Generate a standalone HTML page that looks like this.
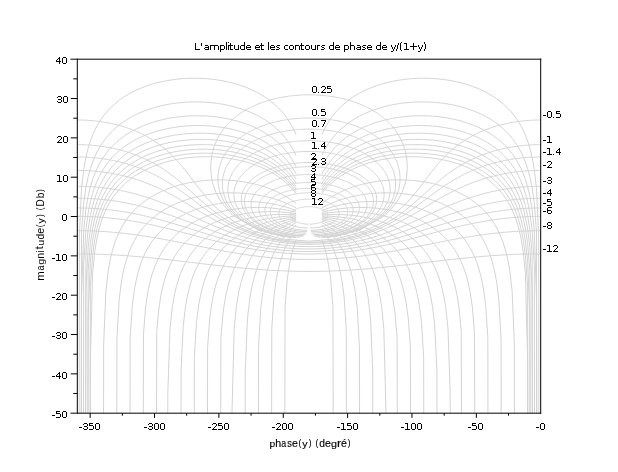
<!DOCTYPE html>
<html><head><meta charset="utf-8"><style>
html,body{margin:0;padding:0;background:#fff;}
svg{display:block;}
text{font-family:"Liberation Sans",sans-serif;fill:#000;}
</style></head><body>
<svg width="618" height="472" viewBox="0 0 618 472">
<defs><clipPath id="cp"><rect x="77.3" y="59.2" width="463.4" height="354"/></clipPath>
<filter id="gs" x="0" y="0" width="1" height="1"><feOffset dx="0" dy="0"/></filter></defs>
<rect width="618" height="472" fill="#fff"/>
<g clip-path="url(#cp)"><path d="M309.00,271.39L306.87,271.39L303.92,271.37L300.97,271.34L298.02,271.29L295.08,271.24L292.15,271.17L289.22,271.08L286.30,270.99L283.40,270.88L280.50,270.76L277.62,270.62L274.76,270.48L271.90,270.32L269.07,270.16L266.25,269.98L263.45,269.80L260.67,269.60L257.91,269.40L255.17,269.19L252.45,268.97L249.75,268.74L247.07,268.51L244.41,268.27L241.78,268.03L239.16,267.78L236.57,267.53L234.00,267.27L231.45,267.01L228.93,266.74L226.43,266.48L223.94,266.21L221.48,265.94L219.04,265.67L216.63,265.39L214.23,265.12L211.85,264.84L209.50,264.57L207.16,264.29L204.84,264.02L202.55,263.75L200.27,263.47L198.01,263.20L195.77,262.93L193.54,262.67L191.33,262.40L189.14,262.14L186.97,261.88L184.81,261.62L182.67,261.36L180.54,261.11L178.43,260.86L176.33,260.62L174.25,260.37L172.18,260.14L170.13,259.90L168.08,259.67L166.05,259.44L164.03,259.22L162.03,259.00L160.03,258.78L158.05,258.57L156.07,258.36L154.11,258.16L152.16,257.96L150.21,257.76L148.28,257.57L146.35,257.38L144.44,257.20L142.53,257.03L140.63,256.85L138.74,256.69L136.85,256.52L134.98,256.36L133.11,256.21L131.24,256.06L129.39,255.92L127.54,255.78L125.69,255.64L123.85,255.51L122.02,255.39L120.19,255.27L118.37,255.15L116.55,255.04L114.74,254.94L112.93,254.84L111.12,254.74L109.32,254.65L107.52,254.56L105.73,254.48L103.93,254.41L102.15,254.33L100.36,254.27L98.58,254.21L96.79,254.15L95.02,254.10L93.24,254.05L91.46,254.01L89.69,253.97L87.92,253.94L86.15,253.91L84.38,253.89L82.61,253.87L80.84,253.86L79.07,253.85L77.30,253.85M540.70,253.85L538.93,253.85L537.16,253.86L535.39,253.87L533.62,253.89L531.85,253.91L530.08,253.94L528.31,253.97L526.54,254.01L524.76,254.05L522.98,254.10L521.21,254.15L519.42,254.21L517.64,254.27L515.85,254.33L514.07,254.41L512.27,254.48L510.48,254.56L508.68,254.65L506.88,254.74L505.07,254.84L503.26,254.94L501.45,255.04L499.63,255.15L497.81,255.27L495.98,255.39L494.15,255.51L492.31,255.64L490.46,255.78L488.61,255.92L486.76,256.06L484.89,256.21L483.02,256.36L481.15,256.52L479.26,256.69L477.37,256.85L475.47,257.03L473.56,257.20L471.65,257.38L469.72,257.57L467.79,257.76L465.84,257.96L463.89,258.16L461.93,258.36L459.95,258.57L457.97,258.78L455.97,259.00L453.97,259.22L451.95,259.44L449.92,259.67L447.87,259.90L445.82,260.14L443.75,260.37L441.67,260.62L439.57,260.86L437.46,261.11L435.33,261.36L433.19,261.62L431.03,261.88L428.86,262.14L426.67,262.40L424.46,262.67L422.23,262.93L419.99,263.20L417.73,263.47L415.45,263.75L413.16,264.02L410.84,264.29L408.50,264.57L406.15,264.84L403.77,265.12L401.37,265.39L398.96,265.67L396.52,265.94L394.06,266.21L391.57,266.48L389.07,266.74L386.55,267.01L384.00,267.27L381.43,267.53L378.84,267.78L376.22,268.03L373.59,268.27L370.93,268.51L368.25,268.74L365.55,268.97L362.83,269.19L360.09,269.40L357.33,269.60L354.55,269.80L351.75,269.98L348.93,270.16L346.10,270.32L343.24,270.48L340.38,270.62L337.50,270.76L334.60,270.88L331.70,270.99L328.78,271.08L325.85,271.17L322.92,271.24L319.98,271.29L317.03,271.34L314.08,271.37L311.13,271.39L309.00,271.39M309.00,259.45L306.35,259.44L302.68,259.40L299.02,259.32L295.37,259.22L291.74,259.08L288.13,258.91L284.55,258.71L281.00,258.48L277.48,258.22L274.00,257.93L270.57,257.63L267.17,257.29L263.82,256.94L260.52,256.57L257.27,256.18L254.07,255.78L250.91,255.36L247.81,254.92L244.76,254.48L241.75,254.03L238.80,253.57L235.90,253.10L233.05,252.63L230.24,252.15L227.48,251.67L224.77,251.18L222.10,250.70L219.48,250.21L216.89,249.73L214.35,249.25L211.85,248.76L209.39,248.29L206.97,247.81L204.58,247.34L202.22,246.87L199.90,246.41L197.62,245.95L195.36,245.50L193.13,245.05L190.93,244.61L188.76,244.17L186.62,243.74L184.50,243.32L182.41,242.90L180.34,242.49L178.29,242.09L176.26,241.69L174.26,241.30L172.27,240.92L170.31,240.55L168.36,240.18L166.43,239.82L164.52,239.47L162.63,239.12L160.74,238.78L158.88,238.45L157.03,238.13L155.19,237.81L153.37,237.50L151.56,237.20L149.76,236.90L147.97,236.61L146.20,236.33L144.43,236.06L142.68,235.79L140.93,235.53L139.20,235.28L137.47,235.04L135.75,234.80L134.04,234.57L132.34,234.34L130.65,234.13L128.96,233.92L127.28,233.71L125.61,233.51L123.94,233.32L122.28,233.14L120.63,232.97L118.98,232.80L117.34,232.63L115.70,232.48L114.07,232.33L112.44,232.18L110.81,232.05L109.19,231.92L107.57,231.79L105.96,231.68L104.35,231.56L102.74,231.46L101.14,231.36L99.54,231.27L97.94,231.19L96.34,231.11L94.75,231.04L93.15,230.97L91.56,230.91L89.98,230.86L88.39,230.81L86.80,230.77L85.22,230.73L83.63,230.71L82.05,230.68L80.47,230.67L78.88,230.66L77.30,230.66M540.70,230.66L539.12,230.66L537.53,230.67L535.95,230.68L534.37,230.71L532.78,230.73L531.20,230.77L529.61,230.81L528.02,230.86L526.44,230.91L524.85,230.97L523.25,231.04L521.66,231.11L520.06,231.19L518.46,231.27L516.86,231.36L515.26,231.46L513.65,231.56L512.04,231.68L510.43,231.79L508.81,231.92L507.19,232.05L505.56,232.18L503.93,232.33L502.30,232.48L500.66,232.63L499.02,232.80L497.37,232.97L495.72,233.14L494.06,233.32L492.39,233.51L490.72,233.71L489.04,233.92L487.35,234.13L485.66,234.34L483.96,234.57L482.25,234.80L480.53,235.04L478.80,235.28L477.07,235.53L475.32,235.79L473.57,236.06L471.80,236.33L470.03,236.61L468.24,236.90L466.44,237.20L464.63,237.50L462.81,237.81L460.97,238.13L459.12,238.45L457.26,238.78L455.37,239.12L453.48,239.47L451.57,239.82L449.64,240.18L447.69,240.55L445.73,240.92L443.74,241.30L441.74,241.69L439.71,242.09L437.66,242.49L435.59,242.90L433.50,243.32L431.38,243.74L429.24,244.17L427.07,244.61L424.87,245.05L422.64,245.50L420.38,245.95L418.10,246.41L415.78,246.87L413.42,247.34L411.03,247.81L408.61,248.29L406.15,248.76L403.65,249.25L401.11,249.73L398.52,250.21L395.90,250.70L393.23,251.18L390.52,251.67L387.76,252.15L384.95,252.63L382.10,253.10L379.20,253.57L376.25,254.03L373.24,254.48L370.19,254.92L367.09,255.36L363.93,255.78L360.73,256.18L357.48,256.57L354.18,256.94L350.83,257.29L347.43,257.63L344.00,257.93L340.52,258.22L337.00,258.48L333.45,258.71L329.87,258.91L326.26,259.08L322.63,259.22L318.98,259.32L315.32,259.40L311.65,259.44L309.00,259.45M309.00,254.01L305.81,254.00L301.38,253.92L296.98,253.79L292.60,253.59L288.27,253.34L283.99,253.03L279.77,252.67L275.63,252.27L271.55,251.82L267.56,251.33L263.65,250.81L259.83,250.25L256.09,249.67L252.45,249.06L248.90,248.43L245.44,247.79L242.06,247.13L238.77,246.46L235.57,245.79L232.45,245.10L229.40,244.42L226.44,243.73L223.54,243.05L220.72,242.36L217.96,241.68L215.27,241.01L212.64,240.34L210.06,239.68L207.55,239.02L205.08,238.37L202.67,237.74L200.30,237.11L197.98,236.49L195.70,235.88L193.46,235.28L191.26,234.69L189.10,234.11L186.97,233.54L184.88,232.98L182.82,232.43L180.78,231.89L178.78,231.37L176.80,230.85L174.85,230.35L172.92,229.85L171.02,229.37L169.14,228.90L167.28,228.44L165.43,227.98L163.61,227.54L161.81,227.11L160.02,226.69L158.25,226.28L156.49,225.87L154.75,225.48L153.03,225.10L151.32,224.72L149.62,224.36L147.93,224.01L146.25,223.66L144.59,223.32L142.94,223.00L141.29,222.68L139.66,222.37L138.04,222.07L136.42,221.78L134.82,221.49L133.22,221.22L131.63,220.95L130.04,220.69L128.47,220.44L126.90,220.20L125.33,219.96L123.78,219.74L122.23,219.52L120.68,219.31L119.14,219.11L117.61,218.91L116.07,218.72L114.55,218.54L113.03,218.37L111.51,218.20L110.00,218.05L108.49,217.90L106.98,217.75L105.48,217.62L103.98,217.49L102.48,217.37L100.98,217.25L99.49,217.14L98.00,217.04L96.52,216.95L95.03,216.87L93.55,216.79L92.06,216.71L90.58,216.65L89.10,216.59L87.63,216.54L86.15,216.49L84.67,216.46L83.20,216.43L81.72,216.40L80.25,216.38L78.77,216.37L77.30,216.37M540.70,216.37L539.23,216.37L537.75,216.38L536.28,216.40L534.80,216.43L533.33,216.46L531.85,216.49L530.37,216.54L528.90,216.59L527.42,216.65L525.94,216.71L524.45,216.79L522.97,216.87L521.48,216.95L520.00,217.04L518.51,217.14L517.02,217.25L515.52,217.37L514.02,217.49L512.52,217.62L511.02,217.75L509.51,217.90L508.00,218.05L506.49,218.20L504.97,218.37L503.45,218.54L501.93,218.72L500.39,218.91L498.86,219.11L497.32,219.31L495.77,219.52L494.22,219.74L492.67,219.96L491.10,220.20L489.53,220.44L487.96,220.69L486.37,220.95L484.78,221.22L483.18,221.49L481.58,221.78L479.96,222.07L478.34,222.37L476.71,222.68L475.06,223.00L473.41,223.32L471.75,223.66L470.07,224.01L468.38,224.36L466.68,224.72L464.97,225.10L463.25,225.48L461.51,225.87L459.75,226.28L457.98,226.69L456.19,227.11L454.39,227.54L452.57,227.98L450.72,228.44L448.86,228.90L446.98,229.37L445.08,229.85L443.15,230.35L441.20,230.85L439.22,231.37L437.22,231.89L435.18,232.43L433.12,232.98L431.03,233.54L428.90,234.11L426.74,234.69L424.54,235.28L422.30,235.88L420.02,236.49L417.70,237.11L415.33,237.74L412.92,238.37L410.45,239.02L407.94,239.68L405.36,240.34L402.73,241.01L400.04,241.68L397.28,242.36L394.46,243.05L391.56,243.73L388.60,244.42L385.55,245.10L382.43,245.79L379.23,246.46L375.94,247.13L372.56,247.79L369.10,248.43L365.55,249.06L361.91,249.67L358.17,250.25L354.35,250.81L350.44,251.33L346.45,251.82L342.37,252.27L338.23,252.67L334.01,253.03L329.73,253.34L325.40,253.59L321.02,253.79L316.62,253.92L312.19,254.00L309.00,254.01M309.00,251.44L305.36,251.42L300.32,251.31L295.32,251.11L290.37,250.83L285.49,250.47L280.70,250.03L276.01,249.52L271.43,248.96L266.97,248.33L262.64,247.66L258.43,246.95L254.36,246.20L250.41,245.43L246.59,244.63L242.90,243.81L239.32,242.98L235.87,242.15L232.53,241.31L229.29,240.46L226.16,239.62L223.12,238.78L220.18,237.95L217.32,237.13L214.55,236.31L211.85,235.51L209.23,234.71L206.67,233.93L204.18,233.16L201.75,232.41L199.38,231.66L197.05,230.94L194.78,230.22L192.56,229.52L190.38,228.83L188.24,228.16L186.15,227.51L184.09,226.86L182.06,226.23L180.07,225.62L178.11,225.01L176.17,224.43L174.27,223.85L172.39,223.29L170.54,222.74L168.71,222.21L166.90,221.68L165.11,221.17L163.34,220.68L161.59,220.19L159.86,219.72L158.15,219.25L156.45,218.80L154.76,218.36L153.10,217.93L151.44,217.52L149.80,217.11L148.17,216.71L146.55,216.33L144.95,215.95L143.35,215.59L141.77,215.23L140.19,214.89L138.62,214.55L137.07,214.23L135.52,213.91L133.98,213.60L132.44,213.31L130.92,213.02L129.40,212.74L127.88,212.47L126.38,212.21L124.88,211.95L123.38,211.71L121.89,211.47L120.41,211.24L118.93,211.02L117.45,210.81L115.98,210.61L114.52,210.41L113.06,210.22L111.60,210.04L110.14,209.87L108.69,209.71L107.25,209.55L105.80,209.40L104.36,209.26L102.92,209.13L101.48,209.00L100.05,208.88L98.62,208.77L97.19,208.67L95.76,208.57L94.33,208.48L92.91,208.40L91.48,208.32L90.06,208.26L88.64,208.20L87.22,208.14L85.80,208.10L84.38,208.06L82.97,208.03L81.55,208.00L80.13,207.98L78.72,207.97L77.30,207.97M540.70,207.97L539.28,207.97L537.87,207.98L536.45,208.00L535.03,208.03L533.62,208.06L532.20,208.10L530.78,208.14L529.36,208.20L527.94,208.26L526.52,208.32L525.09,208.40L523.67,208.48L522.24,208.57L520.81,208.67L519.38,208.77L517.95,208.88L516.52,209.00L515.08,209.13L513.64,209.26L512.20,209.40L510.75,209.55L509.31,209.71L507.86,209.87L506.40,210.04L504.94,210.22L503.48,210.41L502.02,210.61L500.55,210.81L499.07,211.02L497.59,211.24L496.11,211.47L494.62,211.71L493.12,211.95L491.62,212.21L490.12,212.47L488.60,212.74L487.08,213.02L485.56,213.31L484.02,213.60L482.48,213.91L480.93,214.23L479.38,214.55L477.81,214.89L476.23,215.23L474.65,215.59L473.05,215.95L471.45,216.33L469.83,216.71L468.20,217.11L466.56,217.52L464.90,217.93L463.24,218.36L461.55,218.80L459.85,219.25L458.14,219.72L456.41,220.19L454.66,220.68L452.89,221.17L451.10,221.68L449.29,222.21L447.46,222.74L445.61,223.29L443.73,223.85L441.83,224.43L439.89,225.01L437.93,225.62L435.94,226.23L433.91,226.86L431.85,227.51L429.76,228.16L427.62,228.83L425.44,229.52L423.22,230.22L420.95,230.94L418.62,231.66L416.25,232.41L413.82,233.16L411.33,233.93L408.77,234.71L406.15,235.51L403.45,236.31L400.68,237.13L397.82,237.95L394.88,238.78L391.84,239.62L388.71,240.46L385.47,241.31L382.13,242.15L378.68,242.98L375.10,243.81L371.41,244.63L367.59,245.43L363.64,246.20L359.57,246.95L355.36,247.66L351.03,248.33L346.57,248.96L341.99,249.52L337.30,250.03L332.51,250.47L327.63,250.83L322.68,251.11L317.68,251.31L312.64,251.42L309.00,251.44M309.00,248.98L304.69,248.94L298.72,248.77L292.83,248.46L287.04,248.02L281.38,247.46L275.88,246.80L270.57,246.04L265.44,245.20L260.52,244.30L255.79,243.34L251.27,242.34L246.95,241.31L242.82,240.25L238.87,239.19L235.09,238.12L231.47,237.04L228.01,235.97L224.69,234.91L221.50,233.86L218.44,232.82L215.49,231.80L212.65,230.80L209.90,229.82L207.25,228.85L204.68,227.91L202.18,226.98L199.76,226.08L197.41,225.20L195.12,224.34L192.89,223.50L190.71,222.67L188.58,221.87L186.49,221.09L184.45,220.33L182.45,219.59L180.49,218.86L178.56,218.16L176.67,217.47L174.80,216.80L172.97,216.14L171.16,215.51L169.37,214.89L167.62,214.28L165.88,213.69L164.16,213.12L162.47,212.56L160.79,212.01L159.13,211.48L157.49,210.97L155.86,210.46L154.25,209.97L152.65,209.50L151.07,209.03L149.50,208.58L147.94,208.14L146.39,207.71L144.85,207.30L143.32,206.89L141.81,206.50L140.30,206.12L138.80,205.74L137.31,205.38L135.82,205.03L134.35,204.69L132.88,204.36L131.42,204.04L129.96,203.73L128.51,203.43L127.07,203.14L125.63,202.86L124.20,202.59L122.77,202.33L121.35,202.07L119.93,201.83L118.52,201.59L117.11,201.36L115.70,201.14L114.30,200.93L112.90,200.73L111.51,200.54L110.12,200.35L108.73,200.17L107.34,200.00L105.96,199.84L104.58,199.69L103.20,199.54L101.83,199.40L100.45,199.27L99.08,199.15L97.71,199.04L96.34,198.93L94.98,198.83L93.61,198.74L92.25,198.65L90.88,198.58L89.52,198.51L88.16,198.44L86.80,198.39L85.44,198.34L84.09,198.30L82.73,198.27L81.37,198.24L80.01,198.22L78.66,198.21L77.30,198.21M540.70,198.21L539.34,198.21L537.99,198.22L536.63,198.24L535.27,198.27L533.91,198.30L532.56,198.34L531.20,198.39L529.84,198.44L528.48,198.51L527.12,198.58L525.75,198.65L524.39,198.74L523.02,198.83L521.66,198.93L520.29,199.04L518.92,199.15L517.55,199.27L516.17,199.40L514.80,199.54L513.42,199.69L512.04,199.84L510.66,200.00L509.27,200.17L507.88,200.35L506.49,200.54L505.10,200.73L503.70,200.93L502.30,201.14L500.89,201.36L499.48,201.59L498.07,201.83L496.65,202.07L495.23,202.33L493.80,202.59L492.37,202.86L490.93,203.14L489.49,203.43L488.04,203.73L486.58,204.04L485.12,204.36L483.65,204.69L482.18,205.03L480.69,205.38L479.20,205.74L477.70,206.12L476.19,206.50L474.68,206.89L473.15,207.30L471.61,207.71L470.06,208.14L468.50,208.58L466.93,209.03L465.35,209.50L463.75,209.97L462.14,210.46L460.51,210.97L458.87,211.48L457.21,212.01L455.53,212.56L453.84,213.12L452.12,213.69L450.38,214.28L448.63,214.89L446.84,215.51L445.03,216.14L443.20,216.80L441.33,217.47L439.44,218.16L437.51,218.86L435.55,219.59L433.55,220.33L431.51,221.09L429.42,221.87L427.29,222.67L425.11,223.50L422.88,224.34L420.59,225.20L418.24,226.08L415.82,226.98L413.32,227.91L410.75,228.85L408.10,229.82L405.35,230.80L402.51,231.80L399.56,232.82L396.50,233.86L393.31,234.91L389.99,235.97L386.53,237.04L382.91,238.12L379.13,239.19L375.18,240.25L371.05,241.31L366.73,242.34L362.21,243.34L357.48,244.30L352.56,245.20L347.43,246.04L342.12,246.80L336.62,247.46L330.96,248.02L325.17,248.46L319.28,248.77L313.31,248.94L309.00,248.98M309.00,246.62L303.55,246.56L296.05,246.25L288.71,245.70L281.60,244.94L274.78,244.00L268.30,242.89L262.17,241.67L256.41,240.35L250.99,238.97L245.92,237.55L241.16,236.10L236.71,234.65L232.52,233.20L228.59,231.76L224.88,230.35L221.38,228.96L218.06,227.60L214.91,226.27L211.91,224.98L209.05,223.72L206.31,222.50L203.68,221.31L201.15,220.15L198.72,219.03L196.36,217.94L194.09,216.89L191.88,215.86L189.73,214.87L187.65,213.90L185.61,212.97L183.63,212.06L181.69,211.17L179.79,210.32L177.93,209.48L176.11,208.68L174.32,207.89L172.55,207.13L170.82,206.39L169.11,205.67L167.43,204.97L165.77,204.29L164.13,203.63L162.51,202.98L160.91,202.36L159.33,201.75L157.76,201.16L156.21,200.59L154.68,200.03L153.15,199.48L151.65,198.96L150.15,198.44L148.66,197.94L147.19,197.46L145.72,196.99L144.27,196.53L142.82,196.08L141.38,195.65L139.95,195.23L138.53,194.82L137.12,194.42L135.71,194.04L134.31,193.66L132.91,193.30L131.52,192.95L130.14,192.61L128.76,192.28L127.39,191.96L126.02,191.65L124.66,191.35L123.30,191.06L121.95,190.78L120.60,190.51L119.25,190.25L117.91,189.99L116.57,189.75L115.23,189.52L113.90,189.29L112.57,189.07L111.24,188.87L109.91,188.67L108.59,188.48L107.27,188.29L105.95,188.12L104.64,187.95L103.32,187.80L102.01,187.65L100.70,187.51L99.39,187.37L98.09,187.25L96.78,187.13L95.47,187.02L94.17,186.92L92.87,186.82L91.57,186.74L90.27,186.66L88.97,186.59L87.67,186.52L86.37,186.47L85.08,186.42L83.78,186.38L82.48,186.34L81.19,186.32L79.89,186.30L78.60,186.29L77.30,186.28M540.70,186.28L539.40,186.29L538.11,186.30L536.81,186.32L535.52,186.34L534.22,186.38L532.92,186.42L531.63,186.47L530.33,186.52L529.03,186.59L527.73,186.66L526.43,186.74L525.13,186.82L523.83,186.92L522.53,187.02L521.22,187.13L519.91,187.25L518.61,187.37L517.30,187.51L515.99,187.65L514.68,187.80L513.36,187.95L512.05,188.12L510.73,188.29L509.41,188.48L508.09,188.67L506.76,188.87L505.43,189.07L504.10,189.29L502.77,189.52L501.43,189.75L500.09,189.99L498.75,190.25L497.40,190.51L496.05,190.78L494.70,191.06L493.34,191.35L491.98,191.65L490.61,191.96L489.24,192.28L487.86,192.61L486.48,192.95L485.09,193.30L483.69,193.66L482.29,194.04L480.88,194.42L479.47,194.82L478.05,195.23L476.62,195.65L475.18,196.08L473.73,196.53L472.28,196.99L470.81,197.46L469.34,197.94L467.85,198.44L466.35,198.96L464.85,199.48L463.32,200.03L461.79,200.59L460.24,201.16L458.67,201.75L457.09,202.36L455.49,202.98L453.87,203.63L452.23,204.29L450.57,204.97L448.89,205.67L447.18,206.39L445.45,207.13L443.68,207.89L441.89,208.68L440.07,209.48L438.21,210.32L436.31,211.17L434.37,212.06L432.39,212.97L430.35,213.90L428.27,214.87L426.12,215.86L423.91,216.89L421.64,217.94L419.28,219.03L416.85,220.15L414.32,221.31L411.69,222.50L408.95,223.72L406.09,224.98L403.09,226.27L399.94,227.60L396.62,228.96L393.12,230.35L389.41,231.76L385.48,233.20L381.29,234.65L376.84,236.10L372.08,237.55L367.01,238.97L361.59,240.35L355.83,241.67L349.70,242.89L343.22,244.00L336.40,244.94L329.29,245.70L321.95,246.25L314.45,246.56L309.00,246.62M309.00,244.37L301.28,244.22L290.77,243.54L280.76,242.36L271.44,240.79L262.92,238.92L255.20,236.87L248.24,234.71L241.99,232.51L236.37,230.31L231.28,228.15L226.66,226.04L222.45,223.99L218.58,222.02L215.01,220.12L211.69,218.30L208.59,216.54L205.68,214.87L202.94,213.25L200.34,211.71L197.87,210.22L195.51,208.80L193.25,207.43L191.07,206.11L188.98,204.85L186.95,203.63L184.98,202.45L183.07,201.32L181.22,200.23L179.40,199.17L177.63,198.15L175.90,197.17L174.20,196.22L172.54,195.30L170.90,194.41L169.29,193.55L167.70,192.71L166.13,191.91L164.59,191.12L163.07,190.36L161.56,189.63L160.07,188.91L158.60,188.22L157.14,187.55L155.69,186.89L154.26,186.26L152.84,185.65L151.42,185.05L150.02,184.47L148.63,183.90L147.25,183.36L145.88,182.83L144.51,182.31L143.15,181.81L141.80,181.32L140.46,180.85L139.12,180.39L137.79,179.94L136.47,179.51L135.15,179.09L133.83,178.68L132.52,178.29L131.21,177.91L129.91,177.53L128.62,177.17L127.32,176.82L126.03,176.48L124.75,176.16L123.47,175.84L122.19,175.53L120.91,175.24L119.64,174.95L118.37,174.67L117.10,174.41L115.83,174.15L114.57,173.90L113.31,173.66L112.05,173.43L110.79,173.21L109.54,173.00L108.28,172.80L107.03,172.60L105.78,172.42L104.53,172.24L103.29,172.07L102.04,171.91L100.80,171.76L99.55,171.61L98.31,171.48L97.07,171.35L95.83,171.23L94.59,171.12L93.35,171.01L92.11,170.92L90.88,170.83L89.64,170.75L88.40,170.68L87.17,170.61L85.93,170.56L84.70,170.51L83.47,170.46L82.23,170.43L81.00,170.40L79.77,170.38L78.53,170.37L77.30,170.37M540.70,170.37L539.47,170.37L538.23,170.38L537.00,170.40L535.77,170.43L534.53,170.46L533.30,170.51L532.07,170.56L530.83,170.61L529.60,170.68L528.36,170.75L527.12,170.83L525.89,170.92L524.65,171.01L523.41,171.12L522.17,171.23L520.93,171.35L519.69,171.48L518.45,171.61L517.20,171.76L515.96,171.91L514.71,172.07L513.47,172.24L512.22,172.42L510.97,172.60L509.72,172.80L508.46,173.00L507.21,173.21L505.95,173.43L504.69,173.66L503.43,173.90L502.17,174.15L500.90,174.41L499.63,174.67L498.36,174.95L497.09,175.24L495.81,175.53L494.53,175.84L493.25,176.16L491.97,176.48L490.68,176.82L489.38,177.17L488.09,177.53L486.79,177.91L485.48,178.29L484.17,178.68L482.85,179.09L481.53,179.51L480.21,179.94L478.88,180.39L477.54,180.85L476.20,181.32L474.85,181.81L473.49,182.31L472.12,182.83L470.75,183.36L469.37,183.90L467.98,184.47L466.58,185.05L465.16,185.65L463.74,186.26L462.31,186.89L460.86,187.55L459.40,188.22L457.93,188.91L456.44,189.63L454.93,190.36L453.41,191.12L451.87,191.91L450.30,192.71L448.71,193.55L447.10,194.41L445.46,195.30L443.80,196.22L442.10,197.17L440.37,198.15L438.60,199.17L436.78,200.23L434.93,201.32L433.02,202.45L431.05,203.63L429.02,204.85L426.93,206.11L424.75,207.43L422.49,208.80L420.13,210.22L417.66,211.71L415.06,213.25L412.32,214.87L409.41,216.54L406.31,218.30L402.99,220.12L399.42,222.02L395.55,223.99L391.34,226.04L386.72,228.15L381.63,230.31L376.01,232.51L369.76,234.71L362.80,236.87L355.08,238.92L346.56,240.79L337.24,242.36L327.23,243.54L316.72,244.22L309.00,244.37M309.00,243.08L298.36,242.78L284.20,241.42L271.35,239.19L260.11,236.41L250.48,233.34L242.27,230.18L235.26,227.05L229.22,224.02L223.97,221.13L219.35,218.39L215.24,215.80L211.54,213.35L208.18,211.04L205.09,208.85L202.24,206.79L199.58,204.83L197.09,202.97L194.73,201.21L192.49,199.53L190.36,197.93L188.32,196.40L186.36,194.95L184.46,193.55L182.63,192.21L180.85,190.93L179.11,189.70L177.42,188.52L175.77,187.38L174.15,186.28L172.57,185.23L171.01,184.21L169.48,183.23L167.97,182.28L166.48,181.37L165.01,180.48L163.56,179.62L162.13,178.80L160.71,177.99L159.31,177.22L157.92,176.47L156.54,175.74L155.17,175.03L153.81,174.34L152.46,173.68L151.13,173.03L149.80,172.41L148.47,171.80L147.16,171.21L145.85,170.64L144.55,170.09L143.25,169.55L141.97,169.02L140.68,168.51L139.40,168.02L138.13,167.54L136.86,167.08L135.59,166.63L134.33,166.19L133.08,165.76L131.82,165.35L130.57,164.95L129.33,164.57L128.08,164.19L126.84,163.83L125.60,163.47L124.37,163.13L123.14,162.80L121.91,162.48L120.68,162.17L119.45,161.87L118.23,161.58L117.01,161.30L115.79,161.03L114.57,160.77L113.35,160.52L112.14,160.28L110.92,160.05L109.71,159.83L108.50,159.61L107.29,159.41L106.08,159.21L104.88,159.03L103.67,158.85L102.46,158.68L101.26,158.52L100.06,158.36L98.85,158.22L97.65,158.08L96.45,157.95L95.25,157.83L94.05,157.72L92.85,157.62L91.65,157.52L90.46,157.43L89.26,157.35L88.06,157.28L86.87,157.21L85.67,157.15L84.47,157.10L83.28,157.06L82.08,157.03L80.89,157.00L79.69,156.98L78.50,156.97L77.30,156.97M540.70,156.97L539.50,156.97L538.31,156.98L537.11,157.00L535.92,157.03L534.72,157.06L533.53,157.10L532.33,157.15L531.13,157.21L529.94,157.28L528.74,157.35L527.54,157.43L526.35,157.52L525.15,157.62L523.95,157.72L522.75,157.83L521.55,157.95L520.35,158.08L519.15,158.22L517.94,158.36L516.74,158.52L515.54,158.68L514.33,158.85L513.12,159.03L511.92,159.21L510.71,159.41L509.50,159.61L508.29,159.83L507.08,160.05L505.86,160.28L504.65,160.52L503.43,160.77L502.21,161.03L500.99,161.30L499.77,161.58L498.55,161.87L497.32,162.17L496.09,162.48L494.86,162.80L493.63,163.13L492.40,163.47L491.16,163.83L489.92,164.19L488.67,164.57L487.43,164.95L486.18,165.35L484.92,165.76L483.67,166.19L482.41,166.63L481.14,167.08L479.87,167.54L478.60,168.02L477.32,168.51L476.03,169.02L474.75,169.55L473.45,170.09L472.15,170.64L470.84,171.21L469.53,171.80L468.20,172.41L466.87,173.03L465.54,173.68L464.19,174.34L462.83,175.03L461.46,175.74L460.08,176.47L458.69,177.22L457.29,177.99L455.87,178.80L454.44,179.62L452.99,180.48L451.52,181.37L450.03,182.28L448.52,183.23L446.99,184.21L445.43,185.23L443.85,186.28L442.23,187.38L440.58,188.52L438.89,189.70L437.15,190.93L435.37,192.21L433.54,193.55L431.64,194.95L429.68,196.40L427.64,197.93L425.51,199.53L423.27,201.21L420.91,202.97L418.42,204.83L415.76,206.79L412.91,208.85L409.82,211.04L406.46,213.35L402.76,215.80L398.65,218.39L394.03,221.13L388.78,224.02L382.74,227.05L375.73,230.18L367.52,233.34L357.89,236.41L346.65,239.19L333.80,241.42L319.64,242.78L309.00,243.08M309.00,242.24L294.51,241.65L275.99,239.12L260.46,235.30L248.03,230.94L238.18,226.53L230.29,222.30L223.84,218.33L218.47,214.66L213.90,211.27L209.92,208.13L206.42,205.23L203.27,202.53L200.42,200.02L197.80,197.67L195.36,195.46L193.08,193.39L190.94,191.44L188.90,189.59L186.95,187.84L185.09,186.18L183.29,184.60L181.56,183.10L179.87,181.66L178.23,180.29L176.63,178.98L175.07,177.72L173.54,176.51L172.03,175.35L170.56,174.23L169.10,173.16L167.67,172.13L166.26,171.13L164.86,170.17L163.48,169.24L162.11,168.34L160.75,167.48L159.41,166.64L158.08,165.83L156.76,165.04L155.45,164.28L154.15,163.54L152.85,162.83L151.56,162.14L150.29,161.47L149.01,160.82L147.74,160.19L146.48,159.58L145.23,158.98L143.98,158.41L142.73,157.85L141.49,157.31L140.25,156.78L139.02,156.27L137.79,155.77L136.56,155.29L135.34,154.82L134.12,154.37L132.90,153.93L131.69,153.50L130.47,153.09L129.27,152.69L128.06,152.30L126.85,151.92L125.65,151.55L124.45,151.20L123.25,150.85L122.06,150.52L120.86,150.20L119.67,149.89L118.48,149.59L117.29,149.30L116.10,149.02L114.91,148.75L113.72,148.49L112.54,148.23L111.35,147.99L110.17,147.76L108.99,147.54L107.81,147.32L106.63,147.12L105.45,146.92L104.27,146.73L103.09,146.55L101.91,146.38L100.74,146.22L99.56,146.07L98.39,145.92L97.21,145.78L96.04,145.66L94.86,145.53L93.69,145.42L92.52,145.32L91.35,145.22L90.18,145.13L89.00,145.05L87.83,144.98L86.66,144.91L85.49,144.85L84.32,144.80L83.15,144.76L81.98,144.73L80.81,144.70L79.64,144.68L78.47,144.67L77.30,144.67M540.70,144.67L539.53,144.67L538.36,144.68L537.19,144.70L536.02,144.73L534.85,144.76L533.68,144.80L532.51,144.85L531.34,144.91L530.17,144.98L529.00,145.05L527.82,145.13L526.65,145.22L525.48,145.32L524.31,145.42L523.14,145.53L521.96,145.66L520.79,145.78L519.61,145.92L518.44,146.07L517.26,146.22L516.09,146.38L514.91,146.55L513.73,146.73L512.55,146.92L511.37,147.12L510.19,147.32L509.01,147.54L507.83,147.76L506.65,147.99L505.46,148.23L504.28,148.49L503.09,148.75L501.90,149.02L500.71,149.30L499.52,149.59L498.33,149.89L497.14,150.20L495.94,150.52L494.75,150.85L493.55,151.20L492.35,151.55L491.15,151.92L489.94,152.30L488.73,152.69L487.53,153.09L486.31,153.50L485.10,153.93L483.88,154.37L482.66,154.82L481.44,155.29L480.21,155.77L478.98,156.27L477.75,156.78L476.51,157.31L475.27,157.85L474.02,158.41L472.77,158.98L471.52,159.58L470.26,160.19L468.99,160.82L467.71,161.47L466.44,162.14L465.15,162.83L463.85,163.54L462.55,164.28L461.24,165.04L459.92,165.83L458.59,166.64L457.25,167.48L455.89,168.34L454.52,169.24L453.14,170.17L451.74,171.13L450.33,172.13L448.90,173.16L447.44,174.23L445.97,175.35L444.46,176.51L442.93,177.72L441.37,178.98L439.77,180.29L438.13,181.66L436.44,183.10L434.71,184.60L432.91,186.18L431.05,187.84L429.10,189.59L427.06,191.44L424.92,193.39L422.64,195.46L420.20,197.67L417.58,200.02L414.73,202.53L411.58,205.23L408.08,208.13L404.10,211.27L399.53,214.66L394.16,218.33L387.71,222.30L379.82,226.53L369.97,230.94L357.54,235.30L342.01,239.12L323.49,241.65L309.00,242.24M309.00,241.21L281.73,238.96L253.19,231.14L235.43,222.40L224.12,214.58L216.36,207.88L210.63,202.12L206.16,197.11L202.50,192.70L199.39,188.78L196.67,185.25L194.24,182.04L192.03,179.11L189.99,176.41L188.07,173.92L186.27,171.59L184.55,169.42L182.90,167.39L181.31,165.47L179.77,163.66L178.28,161.95L176.82,160.33L175.39,158.78L173.99,157.32L172.61,155.91L171.25,154.57L169.91,153.29L168.59,152.06L167.28,150.89L165.99,149.75L164.71,148.67L163.44,147.62L162.17,146.61L160.92,145.64L159.67,144.70L158.44,143.79L157.21,142.92L155.98,142.07L154.76,141.25L153.55,140.46L152.34,139.69L151.13,138.95L149.93,138.23L148.73,137.54L147.54,136.86L146.35,136.21L145.16,135.57L143.98,134.96L142.80,134.36L141.62,133.78L140.44,133.22L139.27,132.67L138.10,132.14L136.93,131.63L135.76,131.13L134.59,130.65L133.43,130.18L132.26,129.72L131.10,129.28L129.94,128.85L128.78,128.44L127.62,128.03L126.47,127.64L125.31,127.26L124.16,126.89L123.00,126.54L121.85,126.19L120.70,125.86L119.55,125.54L118.40,125.23L117.25,124.92L116.10,124.63L114.95,124.35L113.81,124.08L112.66,123.82L111.51,123.57L110.37,123.32L109.22,123.09L108.08,122.87L106.94,122.65L105.79,122.45L104.65,122.25L103.51,122.06L102.37,121.88L101.22,121.71L100.08,121.55L98.94,121.39L97.80,121.25L96.66,121.11L95.52,120.98L94.38,120.86L93.24,120.75L92.10,120.64L90.96,120.54L89.82,120.45L88.68,120.37L87.54,120.30L86.41,120.23L85.27,120.18L84.13,120.13L82.99,120.08L81.85,120.05L80.71,120.02L79.58,120.00L78.44,119.99L77.30,119.99M540.70,119.99L539.56,119.99L538.42,120.00L537.29,120.02L536.15,120.05L535.01,120.08L533.87,120.13L532.73,120.18L531.59,120.23L530.46,120.30L529.32,120.37L528.18,120.45L527.04,120.54L525.90,120.64L524.76,120.75L523.62,120.86L522.48,120.98L521.34,121.11L520.20,121.25L519.06,121.39L517.92,121.55L516.78,121.71L515.63,121.88L514.49,122.06L513.35,122.25L512.21,122.45L511.06,122.65L509.92,122.87L508.78,123.09L507.63,123.32L506.49,123.57L505.34,123.82L504.19,124.08L503.05,124.35L501.90,124.63L500.75,124.92L499.60,125.23L498.45,125.54L497.30,125.86L496.15,126.19L495.00,126.54L493.84,126.89L492.69,127.26L491.53,127.64L490.38,128.03L489.22,128.44L488.06,128.85L486.90,129.28L485.74,129.72L484.57,130.18L483.41,130.65L482.24,131.13L481.07,131.63L479.90,132.14L478.73,132.67L477.56,133.22L476.38,133.78L475.20,134.36L474.02,134.96L472.84,135.57L471.65,136.21L470.46,136.86L469.27,137.54L468.07,138.23L466.87,138.95L465.66,139.69L464.45,140.46L463.24,141.25L462.02,142.07L460.79,142.92L459.56,143.79L458.33,144.70L457.08,145.64L455.83,146.61L454.56,147.62L453.29,148.67L452.01,149.75L450.72,150.89L449.41,152.06L448.09,153.29L446.75,154.57L445.39,155.91L444.01,157.32L442.61,158.78L441.18,160.33L439.72,161.95L438.23,163.66L436.69,165.47L435.10,167.39L433.45,169.42L431.73,171.59L429.93,173.92L428.01,176.41L425.97,179.11L423.76,182.04L421.33,185.25L418.61,188.78L415.50,192.70L411.84,197.11L407.37,202.12L401.64,207.88L393.88,214.58L382.57,222.40L364.81,231.14L336.27,238.96L309.00,241.21M262.32,232.10L232.57,215.16L221.16,202.13L215.86,192.35L213.14,184.63L211.70,178.30L211.01,172.94L210.77,168.30L210.83,164.22L211.11,160.57L211.54,157.28L212.08,154.28L212.71,151.54L213.40,149.00L214.16,146.64L214.95,144.44L215.79,142.39L216.65,140.45L217.54,138.63L218.45,136.90L219.37,135.27L220.32,133.72L221.28,132.24L222.25,130.83L223.23,129.49L224.22,128.20L225.21,126.96L226.22,125.78L227.23,124.64L228.25,123.55L229.27,122.50L230.30,121.49L231.33,120.51L232.37,119.57L233.41,118.66L234.45,117.79L235.50,116.94L236.55,116.12L237.60,115.33L238.66,114.56L239.71,113.81L240.77,113.09L241.83,112.40L242.90,111.72L243.96,111.07L245.03,110.43L246.09,109.81L247.16,109.21L248.23,108.63L249.30,108.07L250.38,107.53L251.45,107.00L252.52,106.48L253.60,105.98L254.67,105.50L255.75,105.03L256.83,104.57L257.91,104.13L258.99,103.70L260.07,103.28L261.15,102.88L262.23,102.49L263.31,102.11L264.39,101.74L265.47,101.38L266.56,101.04L267.64,100.71L268.73,100.38L269.81,100.07L270.89,99.77L271.98,99.48L273.07,99.19L274.15,98.92L275.24,98.66L276.32,98.41L277.41,98.17L278.50,97.93L279.59,97.71L280.67,97.49L281.76,97.29L282.85,97.09L283.94,96.90L285.03,96.72L286.11,96.55L287.20,96.39L288.29,96.23L289.38,96.09L290.47,95.95L291.56,95.82L292.65,95.70L293.74,95.59L294.83,95.48L295.92,95.38L297.01,95.29L298.10,95.21L299.19,95.14L300.28,95.07L301.37,95.02L302.46,94.97L303.55,94.92L304.64,94.89L305.73,94.86L306.82,94.84L307.91,94.83L309.00,94.83M309.00,94.83L310.09,94.83L311.18,94.84L312.27,94.86L313.36,94.89L314.45,94.92L315.54,94.97L316.63,95.02L317.72,95.07L318.81,95.14L319.90,95.21L320.99,95.29L322.08,95.38L323.17,95.48L324.26,95.59L325.35,95.70L326.44,95.82L327.53,95.95L328.62,96.09L329.71,96.23L330.80,96.39L331.89,96.55L332.97,96.72L334.06,96.90L335.15,97.09L336.24,97.29L337.33,97.49L338.41,97.71L339.50,97.93L340.59,98.17L341.68,98.41L342.76,98.66L343.85,98.92L344.93,99.19L346.02,99.48L347.11,99.77L348.19,100.07L349.27,100.38L350.36,100.71L351.44,101.04L352.53,101.38L353.61,101.74L354.69,102.11L355.77,102.49L356.85,102.88L357.93,103.28L359.01,103.70L360.09,104.13L361.17,104.57L362.25,105.03L363.33,105.50L364.40,105.98L365.48,106.48L366.55,107.00L367.62,107.53L368.70,108.07L369.77,108.63L370.84,109.21L371.91,109.81L372.97,110.43L374.04,111.07L375.10,111.72L376.17,112.40L377.23,113.09L378.29,113.81L379.34,114.56L380.40,115.33L381.45,116.12L382.50,116.94L383.55,117.79L384.59,118.66L385.63,119.57L386.67,120.51L387.70,121.49L388.73,122.50L389.75,123.55L390.77,124.64L391.78,125.78L392.79,126.96L393.78,128.20L394.77,129.49L395.75,130.83L396.72,132.24L397.68,133.72L398.63,135.27L399.55,136.90L400.46,138.63L401.35,140.45L402.21,142.39L403.05,144.44L403.84,146.64L404.60,149.00L405.29,151.54L405.92,154.28L406.46,157.28L406.89,160.57L407.17,164.22L407.23,168.30L406.99,172.94L406.30,178.30L404.86,184.63L402.14,192.35L396.84,202.13L385.43,215.16L355.68,232.10M283.32,237.00L256.99,229.18L241.44,220.44L232.35,212.62L226.80,205.91L223.29,200.15L221.03,195.14L219.58,190.74L218.68,186.81L218.17,183.28L217.96,180.08L217.96,177.15L218.13,174.45L218.43,171.95L218.84,169.63L219.33,167.45L219.90,165.42L220.52,163.50L221.19,161.69L221.91,159.98L222.66,158.36L223.44,156.82L224.26,155.35L225.09,153.95L225.95,152.61L226.82,151.33L227.71,150.10L228.62,148.92L229.53,147.79L230.46,146.70L231.40,145.65L232.36,144.64L233.31,143.67L234.28,142.73L235.26,141.82L236.24,140.95L237.23,140.10L238.22,139.29L239.22,138.49L240.22,137.73L241.23,136.99L242.24,136.27L243.25,135.57L244.27,134.90L245.30,134.24L246.32,133.61L247.35,132.99L248.38,132.39L249.41,131.81L250.45,131.25L251.49,130.71L252.53,130.18L253.57,129.66L254.62,129.16L255.66,128.68L256.71,128.21L257.76,127.76L258.81,127.31L259.86,126.88L260.92,126.47L261.97,126.07L263.03,125.67L264.08,125.30L265.14,124.93L266.20,124.57L267.26,124.23L268.32,123.89L269.38,123.57L270.45,123.26L271.51,122.96L272.57,122.67L273.64,122.38L274.70,122.11L275.77,121.85L276.84,121.60L277.90,121.36L278.97,121.12L280.04,120.90L281.11,120.68L282.18,120.48L283.25,120.28L284.32,120.09L285.39,119.91L286.46,119.74L287.53,119.58L288.60,119.43L289.67,119.28L290.75,119.14L291.82,119.01L292.89,118.89L293.96,118.78L295.04,118.67L296.11,118.58L297.18,118.49L298.26,118.41L299.33,118.33L300.41,118.27L301.48,118.21L302.55,118.16L303.63,118.12L304.70,118.08L305.78,118.05L306.85,118.04L307.93,118.02L309.00,118.02M309.00,118.02L310.07,118.02L311.15,118.04L312.22,118.05L313.30,118.08L314.37,118.12L315.45,118.16L316.52,118.21L317.59,118.27L318.67,118.33L319.74,118.41L320.82,118.49L321.89,118.58L322.96,118.67L324.04,118.78L325.11,118.89L326.18,119.01L327.25,119.14L328.33,119.28L329.40,119.43L330.47,119.58L331.54,119.74L332.61,119.91L333.68,120.09L334.75,120.28L335.82,120.48L336.89,120.68L337.96,120.90L339.03,121.12L340.10,121.36L341.16,121.60L342.23,121.85L343.30,122.11L344.36,122.38L345.43,122.67L346.49,122.96L347.55,123.26L348.62,123.57L349.68,123.89L350.74,124.23L351.80,124.57L352.86,124.93L353.92,125.30L354.97,125.67L356.03,126.07L357.08,126.47L358.14,126.88L359.19,127.31L360.24,127.76L361.29,128.21L362.34,128.68L363.38,129.16L364.43,129.66L365.47,130.18L366.51,130.71L367.55,131.25L368.59,131.81L369.62,132.39L370.65,132.99L371.68,133.61L372.70,134.24L373.73,134.90L374.75,135.57L375.76,136.27L376.77,136.99L377.78,137.73L378.78,138.49L379.78,139.29L380.77,140.10L381.76,140.95L382.74,141.82L383.72,142.73L384.69,143.67L385.64,144.64L386.60,145.65L387.54,146.70L388.47,147.79L389.38,148.92L390.29,150.10L391.18,151.33L392.05,152.61L392.91,153.95L393.74,155.35L394.56,156.82L395.34,158.36L396.09,159.98L396.81,161.69L397.48,163.50L398.10,165.42L398.67,167.45L399.16,169.63L399.57,171.95L399.87,174.45L400.04,177.15L400.04,180.08L399.83,183.28L399.32,186.81L398.42,190.74L396.97,195.14L394.71,200.15L391.20,205.91L385.65,212.62L376.56,220.44L361.01,229.18L334.68,237.00M290.48,237.68L268.88,233.00L253.59,226.82L243.34,220.59L236.46,214.85L231.78,209.68L228.53,205.07L226.27,200.93L224.71,197.19L223.65,193.79L222.96,190.69L222.56,187.84L222.38,185.20L222.38,182.75L222.53,180.47L222.79,178.33L223.15,176.32L223.59,174.43L224.09,172.64L224.66,170.95L225.27,169.34L225.93,167.81L226.62,166.35L227.35,164.96L228.11,163.63L228.89,162.35L229.70,161.13L230.52,159.96L231.37,158.83L232.23,157.75L233.10,156.70L233.99,155.70L234.89,154.73L235.81,153.79L236.73,152.89L237.66,152.02L238.60,151.17L239.55,150.36L240.51,149.57L241.47,148.80L242.44,148.06L243.41,147.35L244.39,146.65L245.37,145.98L246.36,145.33L247.36,144.69L248.35,144.08L249.35,143.48L250.36,142.90L251.37,142.34L252.38,141.80L253.39,141.27L254.41,140.76L255.43,140.26L256.45,139.78L257.48,139.31L258.50,138.85L259.53,138.41L260.56,137.98L261.59,137.57L262.63,137.16L263.66,136.77L264.70,136.39L265.74,136.03L266.78,135.67L267.82,135.33L268.86,134.99L269.91,134.67L270.95,134.36L272.00,134.06L273.05,133.77L274.10,133.49L275.14,133.22L276.20,132.95L277.25,132.70L278.30,132.46L279.35,132.23L280.40,132.00L281.46,131.79L282.51,131.58L283.57,131.39L284.62,131.20L285.68,131.02L286.74,130.85L287.79,130.69L288.85,130.53L289.91,130.39L290.97,130.25L292.03,130.12L293.09,130.00L294.15,129.88L295.20,129.78L296.27,129.68L297.33,129.59L298.39,129.51L299.45,129.44L300.51,129.37L301.57,129.32L302.63,129.27L303.69,129.22L304.75,129.19L305.81,129.16L306.88,129.14L307.94,129.13L309.00,129.13M309.00,129.13L310.06,129.13L311.12,129.14L312.19,129.16L313.25,129.19L314.31,129.22L315.37,129.27L316.43,129.32L317.49,129.37L318.55,129.44L319.61,129.51L320.67,129.59L321.73,129.68L322.80,129.78L323.85,129.88L324.91,130.00L325.97,130.12L327.03,130.25L328.09,130.39L329.15,130.53L330.21,130.69L331.26,130.85L332.32,131.02L333.38,131.20L334.43,131.39L335.49,131.58L336.54,131.79L337.60,132.00L338.65,132.23L339.70,132.46L340.75,132.70L341.80,132.95L342.86,133.22L343.90,133.49L344.95,133.77L346.00,134.06L347.05,134.36L348.09,134.67L349.14,134.99L350.18,135.33L351.22,135.67L352.26,136.03L353.30,136.39L354.34,136.77L355.37,137.16L356.41,137.57L357.44,137.98L358.47,138.41L359.50,138.85L360.52,139.31L361.55,139.78L362.57,140.26L363.59,140.76L364.61,141.27L365.62,141.80L366.63,142.34L367.64,142.90L368.65,143.48L369.65,144.08L370.64,144.69L371.64,145.33L372.63,145.98L373.61,146.65L374.59,147.35L375.56,148.06L376.53,148.80L377.49,149.57L378.45,150.36L379.40,151.17L380.34,152.02L381.27,152.89L382.19,153.79L383.11,154.73L384.01,155.70L384.90,156.70L385.77,157.75L386.63,158.83L387.48,159.96L388.30,161.13L389.11,162.35L389.89,163.63L390.65,164.96L391.38,166.35L392.07,167.81L392.73,169.34L393.34,170.95L393.91,172.64L394.41,174.43L394.85,176.32L395.21,178.33L395.47,180.47L395.62,182.75L395.62,185.20L395.44,187.84L395.04,190.69L394.35,193.79L393.29,197.19L391.73,200.93L389.47,205.07L386.22,209.68L381.54,214.85L374.66,220.59L364.41,226.82L349.12,233.00L327.52,237.68M296.11,237.71L279.79,235.18L266.48,231.36L256.26,227.01L248.62,222.59L242.94,218.36L238.71,214.40L235.55,210.73L233.19,207.34L231.43,204.20L230.14,201.30L229.20,198.60L228.56,196.08L228.15,193.73L227.93,191.53L227.87,189.46L227.93,187.50L228.11,185.66L228.37,183.91L228.72,182.25L229.14,180.67L229.61,179.17L230.14,177.73L230.71,176.36L231.33,175.04L231.98,173.78L232.66,172.58L233.37,171.42L234.10,170.30L234.86,169.23L235.64,168.19L236.44,167.20L237.25,166.23L238.08,165.31L238.93,164.41L239.79,163.54L240.66,162.70L241.54,161.89L242.43,161.11L243.33,160.35L244.24,159.61L245.16,158.90L246.09,158.21L247.02,157.54L247.96,156.89L248.90,156.26L249.85,155.64L250.81,155.05L251.77,154.47L252.74,153.91L253.71,153.37L254.68,152.85L255.66,152.33L256.65,151.84L257.63,151.36L258.62,150.89L259.61,150.44L260.61,149.99L261.61,149.57L262.61,149.15L263.61,148.75L264.62,148.36L265.63,147.98L266.64,147.62L267.65,147.26L268.66,146.92L269.68,146.59L270.70,146.27L271.71,145.96L272.74,145.66L273.76,145.36L274.78,145.08L275.81,144.81L276.83,144.55L277.86,144.30L278.89,144.06L279.92,143.83L280.95,143.60L281.98,143.39L283.01,143.18L284.05,142.99L285.08,142.80L286.11,142.62L287.15,142.45L288.19,142.29L289.22,142.13L290.26,141.99L291.30,141.85L292.34,141.72L293.38,141.60L294.42,141.49L295.46,141.38L296.50,141.29L297.54,141.20L298.58,141.12L299.62,141.04L300.66,140.98L301.70,140.92L302.74,140.87L303.79,140.83L304.83,140.79L305.87,140.77L306.91,140.75L307.96,140.74L309.00,140.73M309.00,140.73L310.04,140.74L311.09,140.75L312.13,140.77L313.17,140.79L314.21,140.83L315.26,140.87L316.30,140.92L317.34,140.98L318.38,141.04L319.42,141.12L320.46,141.20L321.50,141.29L322.54,141.38L323.58,141.49L324.62,141.60L325.66,141.72L326.70,141.85L327.74,141.99L328.78,142.13L329.81,142.29L330.85,142.45L331.89,142.62L332.92,142.80L333.95,142.99L334.99,143.18L336.02,143.39L337.05,143.60L338.08,143.83L339.11,144.06L340.14,144.30L341.17,144.55L342.19,144.81L343.22,145.08L344.24,145.36L345.26,145.66L346.29,145.96L347.30,146.27L348.32,146.59L349.34,146.92L350.35,147.26L351.36,147.62L352.37,147.98L353.38,148.36L354.39,148.75L355.39,149.15L356.39,149.57L357.39,149.99L358.39,150.44L359.38,150.89L360.37,151.36L361.35,151.84L362.34,152.33L363.32,152.85L364.29,153.37L365.26,153.91L366.23,154.47L367.19,155.05L368.15,155.64L369.10,156.26L370.04,156.89L370.98,157.54L371.91,158.21L372.84,158.90L373.76,159.61L374.67,160.35L375.57,161.11L376.46,161.89L377.34,162.70L378.21,163.54L379.07,164.41L379.92,165.31L380.75,166.23L381.56,167.20L382.36,168.19L383.14,169.23L383.90,170.30L384.63,171.42L385.34,172.58L386.02,173.78L386.67,175.04L387.29,176.36L387.86,177.73L388.39,179.17L388.86,180.67L389.28,182.25L389.63,183.91L389.89,185.66L390.07,187.50L390.13,189.46L390.07,191.53L389.85,193.73L389.44,196.08L388.80,198.60L387.86,201.30L386.57,204.20L384.81,207.34L382.45,210.73L379.29,214.40L375.06,218.36L369.38,222.59L361.74,227.01L351.52,231.36L338.21,235.18L321.89,237.71M299.95,237.27L288.00,235.91L277.37,233.68L268.34,230.90L260.92,227.83L254.93,224.67L250.13,221.54L246.30,218.52L243.26,215.63L240.86,212.88L238.96,210.29L237.47,207.84L236.32,205.53L235.45,203.35L234.81,201.28L234.36,199.32L234.08,197.47L233.94,195.70L233.91,194.02L233.99,192.42L234.16,190.90L234.41,189.44L234.73,188.04L235.11,186.71L235.54,185.42L236.02,184.19L236.54,183.01L237.10,181.87L237.70,180.78L238.32,179.72L238.98,178.70L239.66,177.72L240.36,176.78L241.09,175.86L241.83,174.97L242.60,174.12L243.37,173.29L244.17,172.49L244.98,171.71L245.80,170.96L246.63,170.23L247.48,169.52L248.33,168.84L249.20,168.17L250.07,167.53L250.95,166.90L251.84,166.29L252.74,165.71L253.65,165.13L254.56,164.58L255.48,164.04L256.40,163.52L257.33,163.01L258.26,162.52L259.20,162.04L260.14,161.57L261.09,161.12L262.04,160.68L263.00,160.26L263.96,159.85L264.92,159.45L265.89,159.06L266.86,158.68L267.83,158.32L268.80,157.97L269.78,157.62L270.76,157.29L271.74,156.97L272.73,156.66L273.71,156.36L274.70,156.07L275.69,155.80L276.68,155.53L277.68,155.27L278.67,155.02L279.67,154.77L280.67,154.54L281.67,154.32L282.67,154.11L283.68,153.90L284.68,153.71L285.69,153.52L286.69,153.34L287.70,153.17L288.71,153.01L289.72,152.86L290.73,152.71L291.74,152.57L292.75,152.45L293.76,152.33L294.78,152.21L295.79,152.11L296.80,152.01L297.82,151.92L298.83,151.84L299.85,151.77L300.86,151.70L301.88,151.65L302.90,151.60L303.91,151.55L304.93,151.52L305.95,151.49L306.97,151.47L307.98,151.46L309.00,151.46M309.00,151.46L310.02,151.46L311.03,151.47L312.05,151.49L313.07,151.52L314.09,151.55L315.10,151.60L316.12,151.65L317.14,151.70L318.15,151.77L319.17,151.84L320.18,151.92L321.20,152.01L322.21,152.11L323.22,152.21L324.24,152.33L325.25,152.45L326.26,152.57L327.27,152.71L328.28,152.86L329.29,153.01L330.30,153.17L331.31,153.34L332.31,153.52L333.32,153.71L334.32,153.90L335.33,154.11L336.33,154.32L337.33,154.54L338.33,154.77L339.33,155.02L340.32,155.27L341.32,155.53L342.31,155.80L343.30,156.07L344.29,156.36L345.27,156.66L346.26,156.97L347.24,157.29L348.22,157.62L349.20,157.97L350.17,158.32L351.14,158.68L352.11,159.06L353.08,159.45L354.04,159.85L355.00,160.26L355.96,160.68L356.91,161.12L357.86,161.57L358.80,162.04L359.74,162.52L360.67,163.01L361.60,163.52L362.52,164.04L363.44,164.58L364.35,165.13L365.26,165.71L366.16,166.29L367.05,166.90L367.93,167.53L368.80,168.17L369.67,168.84L370.52,169.52L371.37,170.23L372.20,170.96L373.02,171.71L373.83,172.49L374.63,173.29L375.40,174.12L376.17,174.97L376.91,175.86L377.64,176.78L378.34,177.72L379.02,178.70L379.68,179.72L380.30,180.78L380.90,181.87L381.46,183.01L381.98,184.19L382.46,185.42L382.89,186.71L383.27,188.04L383.59,189.44L383.84,190.90L384.01,192.42L384.09,194.02L384.06,195.70L383.92,197.47L383.64,199.32L383.19,201.28L382.55,203.35L381.68,205.53L380.53,207.84L379.04,210.29L377.14,212.88L374.74,215.63L371.70,218.52L367.87,221.54L363.07,224.67L357.08,227.83L349.66,230.90L340.63,233.68L330.00,235.91L318.05,237.27M302.87,236.36L294.57,235.67L286.78,234.50L279.67,232.92L273.36,231.06L267.85,229.00L263.11,226.84L259.07,224.64L255.66,222.45L252.79,220.28L250.38,218.17L248.38,216.13L246.72,214.15L245.36,212.25L244.26,210.43L243.37,208.68L242.67,207.00L242.14,205.39L241.76,203.84L241.50,202.36L241.35,200.93L241.30,199.56L241.34,198.25L241.46,196.98L241.64,195.76L241.89,194.59L242.19,193.45L242.55,192.36L242.95,191.31L243.39,190.29L243.87,189.30L244.38,188.35L244.93,187.43L245.50,186.54L246.11,185.68L246.73,184.85L247.38,184.04L248.05,183.26L248.74,182.50L249.44,181.76L250.17,181.05L250.90,180.35L251.66,179.68L252.42,179.03L253.20,178.39L253.99,177.78L254.79,177.18L255.61,176.60L256.43,176.04L257.26,175.49L258.10,174.96L258.95,174.44L259.80,173.94L260.66,173.46L261.53,172.98L262.41,172.52L263.29,172.08L264.17,171.64L265.07,171.23L265.96,170.82L266.87,170.42L267.77,170.04L268.69,169.67L269.60,169.31L270.52,168.96L271.44,168.62L272.37,168.29L273.30,167.97L274.23,167.67L275.17,167.37L276.11,167.08L277.05,166.81L277.99,166.54L278.94,166.28L279.89,166.03L280.84,165.79L281.80,165.56L282.75,165.34L283.71,165.13L284.67,164.93L285.63,164.73L286.59,164.55L287.56,164.37L288.52,164.20L289.49,164.04L290.46,163.89L291.43,163.75L292.40,163.61L293.37,163.48L294.34,163.36L295.31,163.25L296.29,163.15L297.26,163.05L298.24,162.96L299.21,162.88L300.19,162.81L301.17,162.75L302.15,162.69L303.13,162.64L304.10,162.60L305.08,162.56L306.06,162.54L307.04,162.52L308.02,162.51L309.00,162.50M309.00,162.50L309.98,162.51L310.96,162.52L311.94,162.54L312.92,162.56L313.90,162.60L314.87,162.64L315.85,162.69L316.83,162.75L317.81,162.81L318.79,162.88L319.76,162.96L320.74,163.05L321.71,163.15L322.69,163.25L323.66,163.36L324.63,163.48L325.60,163.61L326.57,163.75L327.54,163.89L328.51,164.04L329.48,164.20L330.44,164.37L331.41,164.55L332.37,164.73L333.33,164.93L334.29,165.13L335.25,165.34L336.20,165.56L337.16,165.79L338.11,166.03L339.06,166.28L340.01,166.54L340.95,166.81L341.89,167.08L342.83,167.37L343.77,167.67L344.70,167.97L345.63,168.29L346.56,168.62L347.48,168.96L348.40,169.31L349.31,169.67L350.23,170.04L351.13,170.42L352.04,170.82L352.93,171.23L353.83,171.64L354.71,172.08L355.59,172.52L356.47,172.98L357.34,173.46L358.20,173.94L359.05,174.44L359.90,174.96L360.74,175.49L361.57,176.04L362.39,176.60L363.21,177.18L364.01,177.78L364.80,178.39L365.58,179.03L366.34,179.68L367.10,180.35L367.83,181.05L368.56,181.76L369.26,182.50L369.95,183.26L370.62,184.04L371.27,184.85L371.89,185.68L372.50,186.54L373.07,187.43L373.62,188.35L374.13,189.30L374.61,190.29L375.05,191.31L375.45,192.36L375.81,193.45L376.11,194.59L376.36,195.76L376.54,196.98L376.66,198.25L376.70,199.56L376.65,200.93L376.50,202.36L376.24,203.84L375.86,205.39L375.33,207.00L374.63,208.68L373.74,210.43L372.64,212.25L371.28,214.15L369.62,216.13L367.62,218.17L365.21,220.28L362.34,222.45L358.93,224.64L354.89,226.84L350.15,229.00L344.64,231.06L338.33,232.92L331.22,234.50L323.43,235.67L315.13,236.36M303.76,235.88L296.63,235.36L289.83,234.45L283.52,233.21L277.78,231.72L272.64,230.04L268.12,228.24L264.16,226.36L260.74,224.45L257.80,222.54L255.29,220.66L253.15,218.80L251.34,217.00L249.82,215.24L248.55,213.55L247.50,211.91L246.65,210.32L245.97,208.80L245.44,207.32L245.04,205.90L244.76,204.54L244.58,203.22L244.50,201.95L244.50,200.72L244.57,199.54L244.72,198.40L244.92,197.29L245.18,196.23L245.50,195.20L245.85,194.20L246.25,193.24L246.69,192.31L247.16,191.40L247.66,190.53L248.20,189.68L248.76,188.86L249.34,188.07L249.95,187.29L250.58,186.54L251.23,185.82L251.90,185.11L252.59,184.43L253.29,183.76L254.01,183.12L254.75,182.49L255.49,181.88L256.25,181.29L257.02,180.72L257.80,180.16L258.59,179.62L259.39,179.09L260.20,178.58L261.02,178.08L261.85,177.60L262.68,177.13L263.53,176.67L264.38,176.23L265.23,175.80L266.09,175.39L266.96,174.98L267.83,174.59L268.71,174.21L269.59,173.84L270.48,173.48L271.37,173.13L272.27,172.80L273.17,172.47L274.07,172.16L274.98,171.85L275.89,171.56L276.81,171.27L277.72,170.99L278.65,170.73L279.57,170.47L280.49,170.23L281.42,169.99L282.35,169.76L283.29,169.54L284.22,169.33L285.16,169.13L286.10,168.93L287.04,168.75L287.98,168.57L288.93,168.40L289.88,168.25L290.82,168.09L291.77,167.95L292.72,167.82L293.67,167.69L294.63,167.57L295.58,167.46L296.54,167.35L297.49,167.26L298.45,167.17L299.40,167.09L300.36,167.02L301.32,166.95L302.28,166.90L303.24,166.85L304.20,166.81L305.16,166.77L306.12,166.75L307.08,166.73L308.04,166.72L309.00,166.71M309.00,166.71L309.96,166.72L310.92,166.73L311.88,166.75L312.84,166.77L313.80,166.81L314.76,166.85L315.72,166.90L316.68,166.95L317.64,167.02L318.60,167.09L319.55,167.17L320.51,167.26L321.46,167.35L322.42,167.46L323.37,167.57L324.33,167.69L325.28,167.82L326.23,167.95L327.18,168.09L328.12,168.25L329.07,168.40L330.02,168.57L330.96,168.75L331.90,168.93L332.84,169.13L333.78,169.33L334.71,169.54L335.65,169.76L336.58,169.99L337.51,170.23L338.43,170.47L339.35,170.73L340.28,170.99L341.19,171.27L342.11,171.56L343.02,171.85L343.93,172.16L344.83,172.47L345.73,172.80L346.63,173.13L347.52,173.48L348.41,173.84L349.29,174.21L350.17,174.59L351.04,174.98L351.91,175.39L352.77,175.80L353.62,176.23L354.47,176.67L355.32,177.13L356.15,177.60L356.98,178.08L357.80,178.58L358.61,179.09L359.41,179.62L360.20,180.16L360.98,180.72L361.75,181.29L362.51,181.88L363.25,182.49L363.99,183.12L364.71,183.76L365.41,184.43L366.10,185.11L366.77,185.82L367.42,186.54L368.05,187.29L368.66,188.07L369.24,188.86L369.80,189.68L370.34,190.53L370.84,191.40L371.31,192.31L371.75,193.24L372.15,194.20L372.50,195.20L372.82,196.23L373.08,197.29L373.28,198.40L373.43,199.54L373.50,200.72L373.50,201.95L373.42,203.22L373.24,204.54L372.96,205.90L372.56,207.32L372.03,208.80L371.35,210.32L370.50,211.91L369.45,213.55L368.18,215.24L366.66,217.00L364.85,218.80L362.71,220.66L360.20,222.54L357.26,224.45L353.84,226.36L349.88,228.24L345.36,230.04L340.22,231.72L334.48,233.21L328.17,234.45L321.37,235.36L314.24,235.88M305.15,234.76L299.86,234.45L294.73,233.90L289.83,233.14L285.23,232.20L280.96,231.09L277.04,229.87L273.49,228.55L270.28,227.17L267.42,225.75L264.88,224.30L262.64,222.85L260.67,221.40L258.94,219.96L257.45,218.55L256.16,217.16L255.05,215.80L254.12,214.47L253.33,213.18L252.68,211.92L252.15,210.70L251.74,209.51L251.42,208.35L251.20,207.23L251.06,206.14L250.99,205.09L251.00,204.06L251.07,203.07L251.19,202.10L251.37,201.17L251.60,200.26L251.87,199.37L252.19,198.52L252.54,197.68L252.93,196.88L253.35,196.09L253.80,195.33L254.28,194.59L254.78,193.87L255.31,193.17L255.87,192.49L256.44,191.83L257.03,191.18L257.65,190.56L258.28,189.95L258.92,189.36L259.58,188.79L260.26,188.23L260.95,187.68L261.65,187.16L262.37,186.64L263.09,186.14L263.83,185.66L264.58,185.19L265.34,184.73L266.10,184.28L266.88,183.85L267.66,183.43L268.45,183.02L269.25,182.62L270.05,182.24L270.87,181.86L271.68,181.50L272.51,181.15L273.34,180.81L274.17,180.48L275.01,180.16L275.86,179.85L276.71,179.55L277.56,179.26L278.42,178.98L279.28,178.71L280.15,178.45L281.02,178.19L281.89,177.95L282.77,177.72L283.65,177.49L284.53,177.27L285.41,177.07L286.30,176.87L287.19,176.68L288.08,176.49L288.98,176.32L289.87,176.15L290.77,176.00L291.67,175.85L292.57,175.71L293.48,175.57L294.38,175.45L295.29,175.33L296.20,175.22L297.11,175.12L298.02,175.02L298.93,174.94L299.84,174.86L300.76,174.79L301.67,174.72L302.58,174.67L303.50,174.62L304.42,174.58L305.33,174.54L306.25,174.52L307.17,174.50L308.08,174.49L309.00,174.48M309.00,174.48L309.92,174.49L310.83,174.50L311.75,174.52L312.67,174.54L313.58,174.58L314.50,174.62L315.42,174.67L316.33,174.72L317.24,174.79L318.16,174.86L319.07,174.94L319.98,175.02L320.89,175.12L321.80,175.22L322.71,175.33L323.62,175.45L324.52,175.57L325.43,175.71L326.33,175.85L327.23,176.00L328.13,176.15L329.02,176.32L329.92,176.49L330.81,176.68L331.70,176.87L332.59,177.07L333.47,177.27L334.35,177.49L335.23,177.72L336.11,177.95L336.98,178.19L337.85,178.45L338.72,178.71L339.58,178.98L340.44,179.26L341.29,179.55L342.14,179.85L342.99,180.16L343.83,180.48L344.66,180.81L345.49,181.15L346.32,181.50L347.13,181.86L347.95,182.24L348.75,182.62L349.55,183.02L350.34,183.43L351.12,183.85L351.90,184.28L352.66,184.73L353.42,185.19L354.17,185.66L354.91,186.14L355.63,186.64L356.35,187.16L357.05,187.68L357.74,188.23L358.42,188.79L359.08,189.36L359.72,189.95L360.35,190.56L360.97,191.18L361.56,191.83L362.13,192.49L362.69,193.17L363.22,193.87L363.72,194.59L364.20,195.33L364.65,196.09L365.07,196.88L365.46,197.68L365.81,198.52L366.13,199.37L366.40,200.26L366.63,201.17L366.81,202.10L366.93,203.07L367.00,204.06L367.01,205.09L366.94,206.14L366.80,207.23L366.58,208.35L366.26,209.51L365.85,210.70L365.32,211.92L364.67,213.18L363.88,214.47L362.95,215.80L361.84,217.16L360.55,218.55L359.06,219.96L357.33,221.40L355.36,222.85L353.12,224.30L350.58,225.75L347.72,227.17L344.51,228.55L340.96,229.87L337.04,231.09L332.77,232.20L328.17,233.14L323.27,233.90L318.14,234.45L312.85,234.76M306.28,233.21L302.53,233.04L298.85,232.73L295.27,232.29L291.82,231.73L288.54,231.07L285.43,230.31L282.52,229.47L279.81,228.56L277.30,227.61L274.99,226.61L272.88,225.57L270.96,224.52L269.22,223.46L267.66,222.38L266.25,221.31L265.00,220.24L263.90,219.18L262.92,218.13L262.07,217.09L261.33,216.07L260.70,215.07L260.17,214.08L259.73,213.12L259.37,212.17L259.09,211.25L258.88,210.35L258.74,209.46L258.66,208.60L258.64,207.76L258.68,206.94L258.76,206.14L258.89,205.36L259.06,204.60L259.27,203.85L259.52,203.13L259.81,202.42L260.12,201.74L260.47,201.06L260.85,200.41L261.25,199.77L261.68,199.15L262.14,198.55L262.61,197.96L263.11,197.38L263.63,196.83L264.16,196.28L264.71,195.75L265.28,195.23L265.87,194.73L266.47,194.24L267.09,193.76L267.71,193.30L268.36,192.85L269.01,192.41L269.67,191.98L270.35,191.56L271.03,191.16L271.73,190.77L272.43,190.38L273.14,190.01L273.87,189.65L274.59,189.30L275.33,188.96L276.08,188.63L276.83,188.31L277.58,188.00L278.35,187.70L279.12,187.41L279.89,187.13L280.67,186.86L281.46,186.59L282.25,186.34L283.04,186.09L283.84,185.86L284.64,185.63L285.45,185.41L286.26,185.20L287.08,185.00L287.89,184.80L288.72,184.62L289.54,184.44L290.37,184.27L291.20,184.11L292.03,183.95L292.86,183.81L293.70,183.67L294.54,183.54L295.38,183.42L296.22,183.30L297.07,183.20L297.91,183.10L298.76,183.00L299.61,182.92L300.46,182.84L301.31,182.77L302.16,182.71L303.01,182.66L303.87,182.61L304.72,182.57L305.58,182.54L306.43,182.51L307.29,182.49L308.14,182.48L309.00,182.48M309.00,182.48L309.86,182.48L310.71,182.49L311.57,182.51L312.42,182.54L313.28,182.57L314.13,182.61L314.99,182.66L315.84,182.71L316.69,182.77L317.54,182.84L318.39,182.92L319.24,183.00L320.09,183.10L320.93,183.20L321.78,183.30L322.62,183.42L323.46,183.54L324.30,183.67L325.14,183.81L325.97,183.95L326.80,184.11L327.63,184.27L328.46,184.44L329.28,184.62L330.11,184.80L330.92,185.00L331.74,185.20L332.55,185.41L333.36,185.63L334.16,185.86L334.96,186.09L335.75,186.34L336.54,186.59L337.33,186.86L338.11,187.13L338.88,187.41L339.65,187.70L340.42,188.00L341.17,188.31L341.92,188.63L342.67,188.96L343.41,189.30L344.13,189.65L344.86,190.01L345.57,190.38L346.27,190.77L346.97,191.16L347.65,191.56L348.33,191.98L348.99,192.41L349.64,192.85L350.29,193.30L350.91,193.76L351.53,194.24L352.13,194.73L352.72,195.23L353.29,195.75L353.84,196.28L354.37,196.83L354.89,197.38L355.39,197.96L355.86,198.55L356.32,199.15L356.75,199.77L357.15,200.41L357.53,201.06L357.88,201.74L358.19,202.42L358.48,203.13L358.73,203.85L358.94,204.60L359.11,205.36L359.24,206.14L359.32,206.94L359.36,207.76L359.34,208.60L359.26,209.46L359.12,210.35L358.91,211.25L358.63,212.17L358.27,213.12L357.83,214.08L357.30,215.07L356.67,216.07L355.93,217.09L355.08,218.13L354.10,219.18L353.00,220.24L351.75,221.31L350.34,222.38L348.78,223.46L347.04,224.52L345.12,225.57L343.01,226.61L340.70,227.61L338.19,228.56L335.48,229.47L332.57,230.31L329.46,231.07L326.18,231.73L322.73,232.29L319.15,232.73L315.47,233.04L311.72,233.21M306.96,231.75L304.13,231.64L301.34,231.45L298.60,231.16L295.94,230.80L293.36,230.36L290.88,229.86L288.51,229.29L286.27,228.67L284.14,227.99L282.15,227.28L280.29,226.53L278.55,225.76L276.95,224.96L275.46,224.15L274.10,223.32L272.86,222.48L271.73,221.64L270.71,220.80L269.79,219.95L268.97,219.12L268.24,218.29L267.59,217.46L267.03,216.65L266.55,215.84L266.13,215.05L265.79,214.27L265.51,213.50L265.29,212.74L265.13,212.00L265.02,211.27L264.97,210.55L264.96,209.85L264.99,209.17L265.06,208.50L265.18,207.84L265.33,207.20L265.52,206.57L265.74,205.95L265.99,205.35L266.27,204.76L266.58,204.19L266.91,203.62L267.27,203.08L267.65,202.54L268.05,202.02L268.48,201.51L268.92,201.01L269.39,200.52L269.87,200.05L270.37,199.59L270.88,199.14L271.41,198.70L271.96,198.27L272.51,197.85L273.08,197.44L273.67,197.05L274.26,196.66L274.87,196.29L275.49,195.92L276.11,195.57L276.75,195.22L277.40,194.89L278.05,194.56L278.71,194.24L279.39,193.94L280.06,193.64L280.75,193.35L281.44,193.07L282.14,192.80L282.85,192.54L283.56,192.29L284.28,192.04L285.00,191.80L285.73,191.58L286.46,191.36L287.20,191.14L287.95,190.94L288.69,190.74L289.44,190.56L290.20,190.38L290.96,190.21L291.72,190.04L292.48,189.88L293.25,189.74L294.02,189.59L294.79,189.46L295.57,189.33L296.35,189.22L297.13,189.10L297.91,189.00L298.69,188.90L299.48,188.81L300.27,188.73L301.06,188.66L301.85,188.59L302.64,188.53L303.43,188.48L304.23,188.43L305.02,188.39L305.82,188.36L306.61,188.33L307.41,188.32L308.20,188.31L309.00,188.30M309.00,188.30L309.80,188.31L310.59,188.32L311.39,188.33L312.18,188.36L312.98,188.39L313.77,188.43L314.57,188.48L315.36,188.53L316.15,188.59L316.94,188.66L317.73,188.73L318.52,188.81L319.31,188.90L320.09,189.00L320.87,189.10L321.65,189.22L322.43,189.33L323.21,189.46L323.98,189.59L324.75,189.74L325.52,189.88L326.28,190.04L327.04,190.21L327.80,190.38L328.56,190.56L329.31,190.74L330.05,190.94L330.80,191.14L331.54,191.36L332.27,191.58L333.00,191.80L333.72,192.04L334.44,192.29L335.15,192.54L335.86,192.80L336.56,193.07L337.25,193.35L337.94,193.64L338.61,193.94L339.29,194.24L339.95,194.56L340.60,194.89L341.25,195.22L341.89,195.57L342.51,195.92L343.13,196.29L343.74,196.66L344.33,197.05L344.92,197.44L345.49,197.85L346.04,198.27L346.59,198.70L347.12,199.14L347.63,199.59L348.13,200.05L348.61,200.52L349.08,201.01L349.52,201.51L349.95,202.02L350.35,202.54L350.73,203.08L351.09,203.62L351.42,204.19L351.73,204.76L352.01,205.35L352.26,205.95L352.48,206.57L352.67,207.20L352.82,207.84L352.94,208.50L353.01,209.17L353.04,209.85L353.03,210.55L352.98,211.27L352.87,212.00L352.71,212.74L352.49,213.50L352.21,214.27L351.87,215.05L351.45,215.84L350.97,216.65L350.41,217.46L349.76,218.29L349.03,219.12L348.21,219.95L347.29,220.80L346.27,221.64L345.14,222.48L343.90,223.32L342.54,224.15L341.05,224.96L339.45,225.76L337.71,226.53L335.85,227.28L333.86,227.99L331.73,228.67L329.49,229.29L327.12,229.86L324.64,230.36L322.06,230.80L319.40,231.16L316.66,231.45L313.87,231.64L311.04,231.75M307.40,230.40L305.19,230.32L302.99,230.19L300.83,229.99L298.71,229.74L296.65,229.43L294.64,229.07L292.71,228.67L290.84,228.22L289.06,227.73L287.37,227.21L285.76,226.65L284.24,226.07L282.81,225.46L281.47,224.83L280.22,224.19L279.06,223.53L277.98,222.86L276.99,222.19L276.08,221.50L275.25,220.82L274.49,220.13L273.81,219.45L273.20,218.76L272.65,218.08L272.17,217.41L271.76,216.74L271.40,216.08L271.09,215.42L270.84,214.77L270.64,214.14L270.48,213.51L270.37,212.89L270.31,212.28L270.28,211.68L270.30,211.09L270.35,210.51L270.43,209.94L270.55,209.38L270.70,208.83L270.88,208.29L271.09,207.77L271.32,207.25L271.58,206.75L271.87,206.25L272.18,205.77L272.51,205.30L272.86,204.84L273.23,204.38L273.62,203.94L274.03,203.51L274.45,203.09L274.90,202.68L275.35,202.27L275.83,201.88L276.31,201.50L276.81,201.12L277.33,200.76L277.85,200.41L278.39,200.06L278.94,199.72L279.50,199.40L280.07,199.08L280.65,198.77L281.23,198.47L281.83,198.18L282.44,197.89L283.05,197.62L283.67,197.35L284.30,197.09L284.94,196.84L285.58,196.60L286.23,196.36L286.89,196.14L287.55,195.92L288.22,195.71L288.89,195.51L289.57,195.31L290.25,195.12L290.93,194.94L291.63,194.77L292.32,194.60L293.02,194.45L293.72,194.30L294.43,194.15L295.14,194.02L295.85,193.89L296.57,193.77L297.28,193.65L298.00,193.54L298.73,193.44L299.45,193.35L300.18,193.27L300.91,193.19L301.64,193.11L302.37,193.05L303.10,192.99L303.84,192.94L304.57,192.89L305.31,192.86L306.05,192.83L306.78,192.80L307.52,192.78L308.26,192.77L309.00,192.77M309.00,192.77L309.74,192.77L310.48,192.78L311.22,192.80L311.95,192.83L312.69,192.86L313.43,192.89L314.16,192.94L314.90,192.99L315.63,193.05L316.36,193.11L317.09,193.19L317.82,193.27L318.55,193.35L319.27,193.44L320.00,193.54L320.72,193.65L321.43,193.77L322.15,193.89L322.86,194.02L323.57,194.15L324.28,194.30L324.98,194.45L325.68,194.60L326.37,194.77L327.07,194.94L327.75,195.12L328.43,195.31L329.11,195.51L329.78,195.71L330.45,195.92L331.11,196.14L331.77,196.36L332.42,196.60L333.06,196.84L333.70,197.09L334.33,197.35L334.95,197.62L335.56,197.89L336.17,198.18L336.77,198.47L337.35,198.77L337.93,199.08L338.50,199.40L339.06,199.72L339.61,200.06L340.15,200.41L340.67,200.76L341.19,201.12L341.69,201.50L342.17,201.88L342.65,202.27L343.10,202.68L343.55,203.09L343.97,203.51L344.38,203.94L344.77,204.38L345.14,204.84L345.49,205.30L345.82,205.77L346.13,206.25L346.42,206.75L346.68,207.25L346.91,207.77L347.12,208.29L347.30,208.83L347.45,209.38L347.57,209.94L347.65,210.51L347.70,211.09L347.72,211.68L347.69,212.28L347.63,212.89L347.52,213.51L347.36,214.14L347.16,214.77L346.91,215.42L346.60,216.08L346.24,216.74L345.83,217.41L345.35,218.08L344.80,218.76L344.19,219.45L343.51,220.13L342.75,220.82L341.92,221.50L341.01,222.19L340.02,222.86L338.94,223.53L337.78,224.19L336.53,224.83L335.19,225.46L333.76,226.07L332.24,226.65L330.63,227.21L328.94,227.73L327.16,228.22L325.29,228.67L323.36,229.07L321.35,229.43L319.29,229.74L317.17,229.99L315.01,230.19L312.81,230.32L310.60,230.40M307.95,227.97L306.49,227.93L305.04,227.86L303.60,227.75L302.18,227.61L300.78,227.44L299.42,227.24L298.08,227.01L296.77,226.75L295.51,226.47L294.29,226.16L293.10,225.83L291.97,225.48L290.88,225.10L289.84,224.71L288.85,224.31L287.91,223.89L287.02,223.46L286.18,223.01L285.39,222.56L284.65,222.10L283.96,221.63L283.31,221.16L282.72,220.68L282.18,220.20L281.67,219.72L281.22,219.23L280.81,218.75L280.44,218.26L280.11,217.78L279.82,217.30L279.57,216.82L279.36,216.34L279.18,215.87L279.04,215.40L278.94,214.94L278.86,214.48L278.82,214.03L278.80,213.58L278.82,213.14L278.86,212.70L278.93,212.27L279.02,211.85L279.14,211.44L279.28,211.03L279.45,210.62L279.64,210.23L279.84,209.84L280.07,209.45L280.32,209.08L280.58,208.71L280.87,208.35L281.17,208.00L281.48,207.65L281.82,207.31L282.16,206.98L282.53,206.66L282.90,206.34L283.29,206.03L283.69,205.73L284.11,205.43L284.53,205.15L284.97,204.87L285.42,204.59L285.87,204.33L286.34,204.07L286.82,203.81L287.30,203.57L287.80,203.33L288.30,203.10L288.81,202.88L289.33,202.66L289.86,202.45L290.39,202.24L290.93,202.05L291.48,201.86L292.03,201.68L292.59,201.50L293.15,201.33L293.72,201.17L294.30,201.01L294.88,200.86L295.46,200.72L296.05,200.58L296.64,200.45L297.23,200.33L297.83,200.21L298.44,200.10L299.04,199.99L299.65,199.90L300.26,199.80L300.87,199.72L301.49,199.64L302.11,199.57L302.73,199.50L303.35,199.44L303.97,199.39L304.60,199.34L305.23,199.30L305.85,199.27L306.48,199.24L307.11,199.22L307.74,199.20L308.37,199.19L309.00,199.19M309.00,199.19L309.63,199.19L310.26,199.20L310.89,199.22L311.52,199.24L312.15,199.27L312.77,199.30L313.40,199.34L314.03,199.39L314.65,199.44L315.27,199.50L315.89,199.57L316.51,199.64L317.13,199.72L317.74,199.80L318.35,199.90L318.96,199.99L319.56,200.10L320.17,200.21L320.77,200.33L321.36,200.45L321.95,200.58L322.54,200.72L323.12,200.86L323.70,201.01L324.28,201.17L324.85,201.33L325.41,201.50L325.97,201.68L326.52,201.86L327.07,202.05L327.61,202.24L328.14,202.45L328.67,202.66L329.19,202.88L329.70,203.10L330.20,203.33L330.70,203.57L331.18,203.81L331.66,204.07L332.13,204.33L332.58,204.59L333.03,204.87L333.47,205.15L333.89,205.43L334.31,205.73L334.71,206.03L335.10,206.34L335.47,206.66L335.84,206.98L336.18,207.31L336.52,207.65L336.83,208.00L337.13,208.35L337.42,208.71L337.68,209.08L337.93,209.45L338.16,209.84L338.36,210.23L338.55,210.62L338.72,211.03L338.86,211.44L338.98,211.85L339.07,212.27L339.14,212.70L339.18,213.14L339.20,213.58L339.18,214.03L339.14,214.48L339.06,214.94L338.96,215.40L338.82,215.87L338.64,216.34L338.43,216.82L338.18,217.30L337.89,217.78L337.56,218.26L337.19,218.75L336.78,219.23L336.33,219.72L335.82,220.20L335.28,220.68L334.69,221.16L334.04,221.63L333.35,222.10L332.61,222.56L331.82,223.01L330.98,223.46L330.09,223.89L329.15,224.31L328.16,224.71L327.12,225.10L326.03,225.48L324.90,225.83L323.71,226.16L322.49,226.47L321.23,226.75L319.92,227.01L318.58,227.24L317.22,227.44L315.82,227.61L314.40,227.75L312.96,227.86L311.51,227.93L310.05,227.97M308.47,224.19L307.72,224.17L306.99,224.14L306.25,224.09L305.52,224.04L304.80,223.97L304.09,223.88L303.38,223.79L302.69,223.68L302.01,223.56L301.34,223.42L300.69,223.28L300.05,223.12L299.43,222.96L298.82,222.78L298.23,222.60L297.67,222.40L297.12,222.20L296.59,221.99L296.08,221.77L295.59,221.54L295.13,221.31L294.68,221.07L294.26,220.83L293.86,220.58L293.48,220.33L293.12,220.07L292.79,219.81L292.47,219.54L292.18,219.28L291.91,219.01L291.67,218.74L291.44,218.47L291.23,218.19L291.05,217.92L290.89,217.64L290.74,217.37L290.62,217.09L290.51,216.82L290.43,216.55L290.36,216.27L290.32,216.00L290.29,215.73L290.27,215.47L290.28,215.20L290.30,214.94L290.34,214.68L290.40,214.42L290.47,214.16L290.55,213.91L290.65,213.66L290.77,213.42L290.90,213.17L291.04,212.94L291.20,212.70L291.37,212.47L291.55,212.24L291.74,212.02L291.95,211.80L292.17,211.58L292.39,211.37L292.63,211.16L292.88,210.96L293.14,210.76L293.41,210.56L293.69,210.37L293.98,210.18L294.27,210.00L294.58,209.83L294.89,209.65L295.21,209.49L295.54,209.32L295.88,209.16L296.22,209.01L296.57,208.86L296.92,208.72L297.29,208.58L297.65,208.44L298.03,208.31L298.41,208.19L298.79,208.07L299.18,207.95L299.57,207.84L299.97,207.74L300.38,207.64L300.78,207.54L301.19,207.45L301.61,207.36L302.02,207.28L302.45,207.21L302.87,207.13L303.30,207.07L303.73,207.01L304.16,206.95L304.59,206.90L305.03,206.85L305.46,206.81L305.90,206.77L306.34,206.74L306.78,206.71L307.23,206.69L307.67,206.67L308.11,206.66L308.56,206.65L309.00,206.65M309.00,206.65L309.44,206.65L309.89,206.66L310.33,206.67L310.77,206.69L311.22,206.71L311.66,206.74L312.10,206.77L312.54,206.81L312.97,206.85L313.41,206.90L313.84,206.95L314.27,207.01L314.70,207.07L315.13,207.13L315.55,207.21L315.98,207.28L316.39,207.36L316.81,207.45L317.22,207.54L317.62,207.64L318.03,207.74L318.43,207.84L318.82,207.95L319.21,208.07L319.59,208.19L319.97,208.31L320.35,208.44L320.71,208.58L321.08,208.72L321.43,208.86L321.78,209.01L322.12,209.16L322.46,209.32L322.79,209.49L323.11,209.65L323.42,209.83L323.73,210.00L324.02,210.18L324.31,210.37L324.59,210.56L324.86,210.76L325.12,210.96L325.37,211.16L325.61,211.37L325.83,211.58L326.05,211.80L326.26,212.02L326.45,212.24L326.63,212.47L326.80,212.70L326.96,212.94L327.10,213.17L327.23,213.42L327.35,213.66L327.45,213.91L327.53,214.16L327.60,214.42L327.66,214.68L327.70,214.94L327.72,215.20L327.73,215.47L327.71,215.73L327.68,216.00L327.64,216.27L327.57,216.55L327.49,216.82L327.38,217.09L327.26,217.37L327.11,217.64L326.95,217.92L326.77,218.19L326.56,218.47L326.33,218.74L326.09,219.01L325.82,219.28L325.53,219.54L325.21,219.81L324.88,220.07L324.52,220.33L324.14,220.58L323.74,220.83L323.32,221.07L322.87,221.31L322.41,221.54L321.92,221.77L321.41,221.99L320.88,222.20L320.33,222.40L319.77,222.60L319.18,222.78L318.57,222.96L317.95,223.12L317.31,223.28L316.66,223.42L315.99,223.56L315.31,223.68L314.62,223.79L313.91,223.88L313.20,223.97L312.48,224.04L311.75,224.09L311.01,224.14L310.28,224.17L309.53,224.19M78.59,1022.23L79.30,236.93L81.51,188.54L83.72,169.30L85.93,157.08L88.15,148.13L90.36,141.06L92.57,135.24L94.78,130.29L97.00,126.00L99.21,122.21L101.42,118.83L103.63,115.78L105.85,113.01L108.06,110.48L110.27,108.15L112.48,106.00L114.70,104.00L116.91,102.14L119.12,100.41L121.33,98.79L123.55,97.28L125.76,95.86L127.97,94.52L130.18,93.26L132.40,92.08L134.61,90.97L136.82,89.92L139.04,88.94L141.25,88.01L143.46,87.13L145.67,86.31L147.89,85.54L150.10,84.81L152.31,84.13L154.52,83.49L156.74,82.90L158.95,82.34L161.16,81.83L163.37,81.35L165.59,80.91L167.80,80.50L170.01,80.13L172.22,79.80L174.44,79.50L176.65,79.23L178.86,78.99L181.07,78.79L183.29,78.62L185.50,78.48L187.71,78.37L189.92,78.29L192.14,78.24L194.35,78.23L196.56,78.24L198.77,78.29L200.99,78.36L203.20,78.47L205.41,78.61L207.62,78.78L209.84,78.98L212.05,79.21L214.26,79.48L216.48,79.77L218.69,80.11L220.90,80.47L223.11,80.88L225.33,81.31L227.54,81.79L229.75,82.30L231.96,82.85L234.18,83.45L236.39,84.08L238.60,84.76L240.81,85.48L243.03,86.25L245.24,87.07L247.45,87.94L249.66,88.86L251.88,89.84L254.09,90.89L256.30,91.99L258.51,93.17L260.73,94.42L262.94,95.75L265.15,97.16L267.36,98.67L269.58,100.28L271.79,102.00L274.00,103.85L276.21,105.83L278.43,107.97L280.64,110.29L282.85,112.80L285.06,115.55L287.28,118.58L289.49,121.93L291.70,125.68L293.92,129.93L296.13,134.82M321.87,134.82L324.08,129.93L326.30,125.68L328.51,121.93L330.72,118.58L332.94,115.55L335.15,112.80L337.36,110.29L339.57,107.97L341.79,105.83L344.00,103.85L346.21,102.00L348.42,100.28L350.64,98.67L352.85,97.16L355.06,95.75L357.27,94.42L359.49,93.17L361.70,91.99L363.91,90.89L366.12,89.84L368.34,88.86L370.55,87.94L372.76,87.07L374.97,86.25L377.19,85.48L379.40,84.76L381.61,84.08L383.82,83.45L386.04,82.85L388.25,82.30L390.46,81.79L392.67,81.31L394.89,80.88L397.10,80.47L399.31,80.11L401.52,79.77L403.74,79.48L405.95,79.21L408.16,78.98L410.38,78.78L412.59,78.61L414.80,78.47L417.01,78.36L419.23,78.29L421.44,78.24L423.65,78.23L425.86,78.24L428.08,78.29L430.29,78.37L432.50,78.48L434.71,78.62L436.93,78.79L439.14,78.99L441.35,79.23L443.56,79.50L445.78,79.80L447.99,80.13L450.20,80.50L452.41,80.91L454.63,81.35L456.84,81.83L459.05,82.34L461.26,82.90L463.48,83.49L465.69,84.13L467.90,84.81L470.11,85.54L472.33,86.31L474.54,87.13L476.75,88.01L478.96,88.94L481.18,89.92L483.39,90.97L485.60,92.08L487.82,93.26L490.03,94.52L492.24,95.86L494.45,97.28L496.67,98.79L498.88,100.41L501.09,102.14L503.30,104.00L505.52,106.00L507.73,108.15L509.94,110.48L512.15,113.01L514.37,115.78L516.58,118.83L518.79,122.21L521.00,126.00L523.22,130.29L525.43,135.24L527.64,141.06L529.85,148.13L532.07,157.08L534.28,169.30L536.49,188.54L538.70,236.93L539.41,1022.23M79.87,1045.90L81.51,232.06L83.72,202.82L85.93,187.32L88.15,176.72L90.36,168.67L92.57,162.18L94.78,156.75L97.00,152.10L99.21,148.03L101.42,144.43L103.63,141.19L105.85,138.27L108.06,135.60L110.27,133.16L112.48,130.90L114.70,128.82L116.91,126.88L119.12,125.08L121.33,123.40L123.55,121.82L125.76,120.35L127.97,118.96L130.18,117.66L132.40,116.44L134.61,115.29L136.82,114.20L139.04,113.18L141.25,112.22L143.46,111.31L145.67,110.46L147.89,109.66L150.10,108.90L152.31,108.20L154.52,107.54L156.74,106.92L158.95,106.34L161.16,105.80L163.37,105.30L165.59,104.84L167.80,104.41L170.01,104.02L172.22,103.67L174.44,103.35L176.65,103.06L178.86,102.80L181.07,102.58L183.29,102.39L185.50,102.23L187.71,102.10L189.92,102.01L192.14,101.94L194.35,101.91L196.56,101.90L198.77,101.93L200.99,101.99L203.20,102.08L205.41,102.20L207.62,102.35L209.84,102.53L212.05,102.75L214.26,102.99L216.48,103.27L218.69,103.59L220.90,103.93L223.11,104.31L225.33,104.73L227.54,105.18L229.75,105.67L231.96,106.20L234.18,106.77L236.39,107.38L238.60,108.03L240.81,108.73L243.03,109.47L245.24,110.26L247.45,111.10L249.66,111.99L251.88,112.94L254.09,113.95L256.30,115.02L258.51,116.15L260.73,117.36L262.94,118.64L265.15,120.00L267.36,121.46L269.58,123.01L271.79,124.66L274.00,126.43L276.21,128.34L278.43,130.38L280.64,132.59L282.85,134.99L285.06,137.60L287.28,140.46L289.49,143.61L291.70,147.12L293.92,151.07L296.13,155.56M321.87,155.56L324.08,151.07L326.30,147.12L328.51,143.61L330.72,140.46L332.94,137.60L335.15,134.99L337.36,132.59L339.57,130.38L341.79,128.34L344.00,126.43L346.21,124.66L348.42,123.01L350.64,121.46L352.85,120.00L355.06,118.64L357.27,117.36L359.49,116.15L361.70,115.02L363.91,113.95L366.12,112.94L368.34,111.99L370.55,111.10L372.76,110.26L374.97,109.47L377.19,108.73L379.40,108.03L381.61,107.38L383.82,106.77L386.04,106.20L388.25,105.67L390.46,105.18L392.67,104.73L394.89,104.31L397.10,103.93L399.31,103.59L401.52,103.27L403.74,102.99L405.95,102.75L408.16,102.53L410.38,102.35L412.59,102.20L414.80,102.08L417.01,101.99L419.23,101.93L421.44,101.90L423.65,101.91L425.86,101.94L428.08,102.01L430.29,102.10L432.50,102.23L434.71,102.39L436.93,102.58L439.14,102.80L441.35,103.06L443.56,103.35L445.78,103.67L447.99,104.02L450.20,104.41L452.41,104.84L454.63,105.30L456.84,105.80L459.05,106.34L461.26,106.92L463.48,107.54L465.69,108.20L467.90,108.90L470.11,109.66L472.33,110.46L474.54,111.31L476.75,112.22L478.96,113.18L481.18,114.20L483.39,115.29L485.60,116.44L487.82,117.66L490.03,118.96L492.24,120.35L494.45,121.82L496.67,123.40L498.88,125.08L501.09,126.88L503.30,128.82L505.52,130.90L507.73,133.16L509.94,135.60L512.15,138.27L514.37,141.19L516.58,144.43L518.79,148.03L521.00,152.10L523.22,156.75L525.43,162.18L527.64,168.67L529.85,176.72L532.07,187.32L534.28,202.82L536.49,232.06L538.13,1045.90M81.16,1059.75L81.51,298.88L83.72,230.58L85.93,209.31L88.15,196.32L90.36,186.96L92.57,179.64L94.78,173.64L97.00,168.57L99.21,164.18L101.42,160.32L103.63,156.88L105.85,153.78L108.06,150.97L110.27,148.40L112.48,146.04L114.70,143.86L116.91,141.84L119.12,139.96L121.33,138.21L123.55,136.57L125.76,135.04L127.97,133.60L130.18,132.25L132.40,130.98L134.61,129.79L136.82,128.67L139.04,127.61L141.25,126.61L143.46,125.68L145.67,124.79L147.89,123.96L150.10,123.18L152.31,122.45L154.52,121.76L156.74,121.12L158.95,120.51L161.16,119.95L163.37,119.43L165.59,118.95L167.80,118.50L170.01,118.09L172.22,117.71L174.44,117.37L176.65,117.06L178.86,116.79L181.07,116.55L183.29,116.34L185.50,116.16L187.71,116.02L189.92,115.90L192.14,115.82L194.35,115.77L196.56,115.75L198.77,115.76L200.99,115.80L203.20,115.87L205.41,115.97L207.62,116.10L209.84,116.26L212.05,116.46L214.26,116.69L216.48,116.95L218.69,117.24L220.90,117.57L223.11,117.93L225.33,118.33L227.54,118.76L229.75,119.23L231.96,119.73L234.18,120.28L236.39,120.87L238.60,121.49L240.81,122.16L243.03,122.88L245.24,123.64L247.45,124.45L249.66,125.31L251.88,126.23L254.09,127.20L256.30,128.23L258.51,129.33L260.73,130.49L262.94,131.73L265.15,133.04L267.36,134.44L269.58,135.94L271.79,137.53L274.00,139.23L276.21,141.06L278.43,143.02L280.64,145.13L282.85,147.41L285.06,149.90L287.28,152.60L289.49,155.58L291.70,158.87L293.92,162.56L296.13,166.71M321.87,166.71L324.08,162.56L326.30,158.87L328.51,155.58L330.72,152.60L332.94,149.90L335.15,147.41L337.36,145.13L339.57,143.02L341.79,141.06L344.00,139.23L346.21,137.53L348.42,135.94L350.64,134.44L352.85,133.04L355.06,131.73L357.27,130.49L359.49,129.33L361.70,128.23L363.91,127.20L366.12,126.23L368.34,125.31L370.55,124.45L372.76,123.64L374.97,122.88L377.19,122.16L379.40,121.49L381.61,120.87L383.82,120.28L386.04,119.73L388.25,119.23L390.46,118.76L392.67,118.33L394.89,117.93L397.10,117.57L399.31,117.24L401.52,116.95L403.74,116.69L405.95,116.46L408.16,116.26L410.38,116.10L412.59,115.97L414.80,115.87L417.01,115.80L419.23,115.76L421.44,115.75L423.65,115.77L425.86,115.82L428.08,115.90L430.29,116.02L432.50,116.16L434.71,116.34L436.93,116.55L439.14,116.79L441.35,117.06L443.56,117.37L445.78,117.71L447.99,118.09L450.20,118.50L452.41,118.95L454.63,119.43L456.84,119.95L459.05,120.51L461.26,121.12L463.48,121.76L465.69,122.45L467.90,123.18L470.11,123.96L472.33,124.79L474.54,125.68L476.75,126.61L478.96,127.61L481.18,128.67L483.39,129.79L485.60,130.98L487.82,132.25L490.03,133.60L492.24,135.04L494.45,136.57L496.67,138.21L498.88,139.96L501.09,141.84L503.30,143.86L505.52,146.04L507.73,148.40L509.94,150.97L512.15,153.78L514.37,156.88L516.58,160.32L518.79,164.18L521.00,168.57L523.22,173.64L525.43,179.64L527.64,186.96L529.85,196.32L532.07,209.31L534.28,230.58L536.49,298.88L536.84,1059.75M82.45,1069.56L83.72,264.28L85.93,229.86L88.15,213.08L90.36,201.90L92.57,193.52L94.78,186.82L97.00,181.24L99.21,176.48L101.42,172.33L103.63,168.65L105.85,165.36L108.06,162.39L110.27,159.68L112.48,157.20L114.70,154.92L116.91,152.81L119.12,150.85L121.33,149.03L123.55,147.33L125.76,145.73L127.97,144.24L130.18,142.84L132.40,141.53L134.61,140.29L136.82,139.13L139.04,138.03L141.25,137.00L143.46,136.03L145.67,135.12L147.89,134.26L150.10,133.45L152.31,132.68L154.52,131.97L156.74,131.30L158.95,130.67L161.16,130.09L163.37,129.55L165.59,129.04L167.80,128.57L170.01,128.14L172.22,127.74L174.44,127.38L176.65,127.06L178.86,126.76L181.07,126.50L183.29,126.27L185.50,126.08L187.71,125.92L189.92,125.78L192.14,125.68L194.35,125.61L196.56,125.57L198.77,125.56L200.99,125.58L203.20,125.64L205.41,125.72L207.62,125.84L209.84,125.98L212.05,126.16L214.26,126.37L216.48,126.61L218.69,126.88L220.90,127.19L223.11,127.53L225.33,127.91L227.54,128.32L229.75,128.77L231.96,129.25L234.18,129.77L236.39,130.34L238.60,130.94L240.81,131.58L243.03,132.27L245.24,133.01L247.45,133.79L249.66,134.62L251.88,135.50L254.09,136.44L256.30,137.44L258.51,138.50L260.73,139.62L262.94,140.82L265.15,142.08L267.36,143.44L269.58,144.87L271.79,146.41L274.00,148.04L276.21,149.80L278.43,151.68L280.64,153.70L282.85,155.88L285.06,158.24L287.28,160.82L289.49,163.63L291.70,166.73L293.92,170.18L296.13,174.05M321.87,174.05L324.08,170.18L326.30,166.73L328.51,163.63L330.72,160.82L332.94,158.24L335.15,155.88L337.36,153.70L339.57,151.68L341.79,149.80L344.00,148.04L346.21,146.41L348.42,144.87L350.64,143.44L352.85,142.08L355.06,140.82L357.27,139.62L359.49,138.50L361.70,137.44L363.91,136.44L366.12,135.50L368.34,134.62L370.55,133.79L372.76,133.01L374.97,132.27L377.19,131.58L379.40,130.94L381.61,130.34L383.82,129.77L386.04,129.25L388.25,128.77L390.46,128.32L392.67,127.91L394.89,127.53L397.10,127.19L399.31,126.88L401.52,126.61L403.74,126.37L405.95,126.16L408.16,125.98L410.38,125.84L412.59,125.72L414.80,125.64L417.01,125.58L419.23,125.56L421.44,125.57L423.65,125.61L425.86,125.68L428.08,125.78L430.29,125.92L432.50,126.08L434.71,126.27L436.93,126.50L439.14,126.76L441.35,127.06L443.56,127.38L445.78,127.74L447.99,128.14L450.20,128.57L452.41,129.04L454.63,129.55L456.84,130.09L459.05,130.67L461.26,131.30L463.48,131.97L465.69,132.68L467.90,133.45L470.11,134.26L472.33,135.12L474.54,136.03L476.75,137.00L478.96,138.03L481.18,139.13L483.39,140.29L485.60,141.53L487.82,142.84L490.03,144.24L492.24,145.73L494.45,147.33L496.67,149.03L498.88,150.85L501.09,152.81L503.30,154.92L505.52,157.20L507.73,159.68L509.94,162.39L512.15,165.36L514.37,168.65L516.58,172.33L518.79,176.48L521.00,181.24L523.22,186.82L525.43,193.52L527.64,201.90L529.85,213.08L532.07,229.86L534.28,264.28L535.55,1069.56M83.74,1077.17L85.93,253.21L88.15,229.43L90.36,215.56L92.57,205.75L94.78,198.16L97.00,191.98L99.21,186.77L101.42,182.28L103.63,178.34L105.85,174.84L108.06,171.69L110.27,168.83L112.48,166.23L114.70,163.83L116.91,161.63L119.12,159.58L121.33,157.68L123.55,155.91L125.76,154.26L127.97,152.71L130.18,151.26L132.40,149.89L134.61,148.61L136.82,147.41L139.04,146.27L141.25,145.20L143.46,144.20L145.67,143.25L147.89,142.36L150.10,141.52L152.31,140.73L154.52,139.99L156.74,139.29L158.95,138.64L161.16,138.03L163.37,137.47L165.59,136.94L167.80,136.45L170.01,135.99L172.22,135.58L174.44,135.20L176.65,134.85L178.86,134.54L181.07,134.26L183.29,134.01L185.50,133.80L187.71,133.61L189.92,133.46L192.14,133.34L194.35,133.26L196.56,133.20L198.77,133.17L200.99,133.18L203.20,133.21L205.41,133.28L207.62,133.37L209.84,133.50L212.05,133.66L214.26,133.85L216.48,134.07L218.69,134.33L220.90,134.62L223.11,134.94L225.33,135.29L227.54,135.68L229.75,136.11L231.96,136.57L234.18,137.07L236.39,137.61L238.60,138.19L240.81,138.81L243.03,139.47L245.24,140.18L247.45,140.94L249.66,141.74L251.88,142.59L254.09,143.50L256.30,144.46L258.51,145.48L260.73,146.57L262.94,147.72L265.15,148.94L267.36,150.25L269.58,151.63L271.79,153.11L274.00,154.69L276.21,156.37L278.43,158.17L280.64,160.11L282.85,162.20L285.06,164.45L287.28,166.90L289.49,169.57L291.70,172.50L293.92,175.74L296.13,179.35M321.87,179.35L324.08,175.74L326.30,172.50L328.51,169.57L330.72,166.90L332.94,164.45L335.15,162.20L337.36,160.11L339.57,158.17L341.79,156.37L344.00,154.69L346.21,153.11L348.42,151.63L350.64,150.25L352.85,148.94L355.06,147.72L357.27,146.57L359.49,145.48L361.70,144.46L363.91,143.50L366.12,142.59L368.34,141.74L370.55,140.94L372.76,140.18L374.97,139.47L377.19,138.81L379.40,138.19L381.61,137.61L383.82,137.07L386.04,136.57L388.25,136.11L390.46,135.68L392.67,135.29L394.89,134.94L397.10,134.62L399.31,134.33L401.52,134.07L403.74,133.85L405.95,133.66L408.16,133.50L410.38,133.37L412.59,133.28L414.80,133.21L417.01,133.18L419.23,133.17L421.44,133.20L423.65,133.26L425.86,133.34L428.08,133.46L430.29,133.61L432.50,133.80L434.71,134.01L436.93,134.26L439.14,134.54L441.35,134.85L443.56,135.20L445.78,135.58L447.99,135.99L450.20,136.45L452.41,136.94L454.63,137.47L456.84,138.03L459.05,138.64L461.26,139.29L463.48,139.99L465.69,140.73L467.90,141.52L470.11,142.36L472.33,143.25L474.54,144.20L476.75,145.20L478.96,146.27L481.18,147.41L483.39,148.61L485.60,149.89L487.82,151.26L490.03,152.71L492.24,154.26L494.45,155.91L496.67,157.68L498.88,159.58L501.09,161.63L503.30,163.83L505.52,166.23L507.73,168.83L509.94,171.69L512.15,174.84L514.37,178.34L516.58,182.28L518.79,186.77L521.00,191.98L523.22,198.16L525.43,205.75L527.64,215.56L529.85,229.43L532.07,253.21L534.26,1077.17M85.02,1083.38L85.93,289.53L88.15,247.42L90.36,229.14L92.57,217.32L94.78,208.57L97.00,201.64L99.21,195.91L101.42,191.03L103.63,186.79L105.85,183.04L108.06,179.69L110.27,176.67L112.48,173.93L114.70,171.41L116.91,169.10L119.12,166.96L121.33,164.98L123.55,163.14L125.76,161.41L127.97,159.81L130.18,158.30L132.40,156.88L134.61,155.56L136.82,154.31L139.04,153.13L141.25,152.03L143.46,150.98L145.67,150.00L147.89,149.08L150.10,148.21L152.31,147.39L154.52,146.62L156.74,145.90L158.95,145.23L161.16,144.59L163.37,144.00L165.59,143.45L167.80,142.94L170.01,142.46L172.22,142.03L174.44,141.62L176.65,141.26L178.86,140.92L181.07,140.63L183.29,140.36L185.50,140.13L187.71,139.93L189.92,139.76L192.14,139.62L194.35,139.51L196.56,139.44L198.77,139.39L200.99,139.38L203.20,139.40L205.41,139.44L207.62,139.52L209.84,139.63L212.05,139.77L214.26,139.95L216.48,140.15L218.69,140.39L220.90,140.66L223.11,140.96L225.33,141.29L227.54,141.66L229.75,142.07L231.96,142.51L234.18,142.99L236.39,143.50L238.60,144.06L240.81,144.66L243.03,145.29L245.24,145.97L247.45,146.70L249.66,147.47L251.88,148.30L254.09,149.17L256.30,150.10L258.51,151.09L260.73,152.14L262.94,153.25L265.15,154.43L267.36,155.69L269.58,157.03L271.79,158.45L274.00,159.97L276.21,161.59L278.43,163.32L280.64,165.18L282.85,167.17L285.06,169.33L287.28,171.66L289.49,174.20L291.70,176.97L293.92,180.02L296.13,183.41M321.87,183.41L324.08,180.02L326.30,176.97L328.51,174.20L330.72,171.66L332.94,169.33L335.15,167.17L337.36,165.18L339.57,163.32L341.79,161.59L344.00,159.97L346.21,158.45L348.42,157.03L350.64,155.69L352.85,154.43L355.06,153.25L357.27,152.14L359.49,151.09L361.70,150.10L363.91,149.17L366.12,148.30L368.34,147.47L370.55,146.70L372.76,145.97L374.97,145.29L377.19,144.66L379.40,144.06L381.61,143.50L383.82,142.99L386.04,142.51L388.25,142.07L390.46,141.66L392.67,141.29L394.89,140.96L397.10,140.66L399.31,140.39L401.52,140.15L403.74,139.95L405.95,139.77L408.16,139.63L410.38,139.52L412.59,139.44L414.80,139.40L417.01,139.38L419.23,139.39L421.44,139.44L423.65,139.51L425.86,139.62L428.08,139.76L430.29,139.93L432.50,140.13L434.71,140.36L436.93,140.63L439.14,140.92L441.35,141.26L443.56,141.62L445.78,142.03L447.99,142.46L450.20,142.94L452.41,143.45L454.63,144.00L456.84,144.59L459.05,145.23L461.26,145.90L463.48,146.62L465.69,147.39L467.90,148.21L470.11,149.08L472.33,150.00L474.54,150.98L476.75,152.03L478.96,153.13L481.18,154.31L483.39,155.56L485.60,156.88L487.82,158.30L490.03,159.81L492.24,161.41L494.45,163.14L496.67,164.98L498.88,166.96L501.09,169.10L503.30,171.41L505.52,173.93L507.73,176.67L509.94,179.69L512.15,183.04L514.37,186.79L516.58,191.03L518.79,195.91L521.00,201.64L523.22,208.57L525.43,217.32L527.64,229.14L529.85,247.42L532.07,289.53L532.98,1083.38M86.31,1088.62L88.15,270.81L90.36,243.80L92.57,228.93L94.78,218.62L97.00,210.74L99.21,204.37L101.42,199.02L103.63,194.43L105.85,190.41L108.06,186.84L110.27,183.64L112.48,180.74L114.70,178.09L116.91,175.67L119.12,173.43L121.33,171.36L123.55,169.44L125.76,167.65L127.97,165.97L130.18,164.41L132.40,162.94L134.61,161.56L136.82,160.27L139.04,159.05L141.25,157.91L143.46,156.83L145.67,155.81L147.89,154.85L150.10,153.95L152.31,153.11L154.52,152.31L156.74,151.56L158.95,150.86L161.16,150.20L163.37,149.58L165.59,149.01L167.80,148.47L170.01,147.98L172.22,147.52L174.44,147.10L176.65,146.71L178.86,146.36L181.07,146.04L183.29,145.75L185.50,145.50L187.71,145.28L189.92,145.10L192.14,144.94L194.35,144.82L196.56,144.72L198.77,144.66L200.99,144.63L203.20,144.63L205.41,144.66L207.62,144.72L209.84,144.81L212.05,144.93L214.26,145.09L216.48,145.27L218.69,145.49L220.90,145.74L223.11,146.02L225.33,146.34L227.54,146.69L229.75,147.07L231.96,147.49L234.18,147.95L236.39,148.44L238.60,148.98L240.81,149.55L243.03,150.16L245.24,150.82L247.45,151.52L249.66,152.26L251.88,153.06L254.09,153.90L256.30,154.80L258.51,155.75L260.73,156.76L262.94,157.84L265.15,158.98L267.36,160.19L269.58,161.48L271.79,162.85L274.00,164.32L276.21,165.87L278.43,167.54L280.64,169.32L282.85,171.24L285.06,173.30L287.28,175.52L289.49,177.94L291.70,180.57L293.92,183.45L296.13,186.64M321.87,186.64L324.08,183.45L326.30,180.57L328.51,177.94L330.72,175.52L332.94,173.30L335.15,171.24L337.36,169.32L339.57,167.54L341.79,165.87L344.00,164.32L346.21,162.85L348.42,161.48L350.64,160.19L352.85,158.98L355.06,157.84L357.27,156.76L359.49,155.75L361.70,154.80L363.91,153.90L366.12,153.06L368.34,152.26L370.55,151.52L372.76,150.82L374.97,150.16L377.19,149.55L379.40,148.98L381.61,148.44L383.82,147.95L386.04,147.49L388.25,147.07L390.46,146.69L392.67,146.34L394.89,146.02L397.10,145.74L399.31,145.49L401.52,145.27L403.74,145.09L405.95,144.93L408.16,144.81L410.38,144.72L412.59,144.66L414.80,144.63L417.01,144.63L419.23,144.66L421.44,144.72L423.65,144.82L425.86,144.94L428.08,145.10L430.29,145.28L432.50,145.50L434.71,145.75L436.93,146.04L439.14,146.36L441.35,146.71L443.56,147.10L445.78,147.52L447.99,147.98L450.20,148.47L452.41,149.01L454.63,149.58L456.84,150.20L459.05,150.86L461.26,151.56L463.48,152.31L465.69,153.11L467.90,153.95L470.11,154.85L472.33,155.81L474.54,156.83L476.75,157.91L478.96,159.05L481.18,160.27L483.39,161.56L485.60,162.94L487.82,164.41L490.03,165.97L492.24,167.65L494.45,169.44L496.67,171.36L498.88,173.43L501.09,175.67L503.30,178.09L505.52,180.74L507.73,183.64L509.94,186.84L512.15,190.41L514.37,194.43L516.58,199.02L518.79,204.37L521.00,210.74L523.22,218.62L525.43,228.93L527.64,243.80L529.85,270.81L531.69,1088.62M87.60,1093.16L88.15,316.63L90.36,261.40L92.57,241.31L94.78,228.77L97.00,219.64L99.21,212.46L101.42,206.56L103.63,201.56L105.85,197.22L108.06,193.40L110.27,190.00L112.48,186.93L114.70,184.14L116.91,181.59L119.12,179.24L121.33,177.08L123.55,175.07L125.76,173.21L127.97,171.47L130.18,169.84L132.40,168.32L134.61,166.89L136.82,165.55L139.04,164.29L141.25,163.10L143.46,161.98L145.67,160.93L147.89,159.94L150.10,159.01L152.31,158.13L154.52,157.30L156.74,156.53L158.95,155.80L161.16,155.11L163.37,154.47L165.59,153.87L167.80,153.32L170.01,152.80L172.22,152.32L174.44,151.87L176.65,151.47L178.86,151.09L181.07,150.76L183.29,150.45L185.50,150.18L187.71,149.94L189.92,149.74L192.14,149.56L194.35,149.42L196.56,149.31L198.77,149.23L200.99,149.18L203.20,149.16L205.41,149.17L207.62,149.21L209.84,149.29L212.05,149.39L214.26,149.53L216.48,149.70L218.69,149.89L220.90,150.13L223.11,150.39L225.33,150.69L227.54,151.02L229.75,151.38L231.96,151.78L234.18,152.21L236.39,152.69L238.60,153.20L240.81,153.75L243.03,154.34L245.24,154.97L247.45,155.64L249.66,156.36L251.88,157.12L254.09,157.94L256.30,158.81L258.51,159.73L260.73,160.70L262.94,161.74L265.15,162.84L267.36,164.01L269.58,165.26L271.79,166.58L274.00,167.99L276.21,169.49L278.43,171.09L280.64,172.81L282.85,174.64L285.06,176.62L287.28,178.74L289.49,181.05L291.70,183.55L293.92,186.28L296.13,189.28M321.87,189.28L324.08,186.28L326.30,183.55L328.51,181.05L330.72,178.74L332.94,176.62L335.15,174.64L337.36,172.81L339.57,171.09L341.79,169.49L344.00,167.99L346.21,166.58L348.42,165.26L350.64,164.01L352.85,162.84L355.06,161.74L357.27,160.70L359.49,159.73L361.70,158.81L363.91,157.94L366.12,157.12L368.34,156.36L370.55,155.64L372.76,154.97L374.97,154.34L377.19,153.75L379.40,153.20L381.61,152.69L383.82,152.21L386.04,151.78L388.25,151.38L390.46,151.02L392.67,150.69L394.89,150.39L397.10,150.13L399.31,149.89L401.52,149.70L403.74,149.53L405.95,149.39L408.16,149.29L410.38,149.21L412.59,149.17L414.80,149.16L417.01,149.18L419.23,149.23L421.44,149.31L423.65,149.42L425.86,149.56L428.08,149.74L430.29,149.94L432.50,150.18L434.71,150.45L436.93,150.76L439.14,151.09L441.35,151.47L443.56,151.87L445.78,152.32L447.99,152.80L450.20,153.32L452.41,153.87L454.63,154.47L456.84,155.11L459.05,155.80L461.26,156.53L463.48,157.30L465.69,158.13L467.90,159.01L470.11,159.94L472.33,160.93L474.54,161.98L476.75,163.10L478.96,164.29L481.18,165.55L483.39,166.89L485.60,168.32L487.82,169.84L490.03,171.47L492.24,173.21L494.45,175.07L496.67,177.08L498.88,179.24L501.09,181.59L503.30,184.14L505.52,186.93L507.73,190.00L509.94,193.40L512.15,197.22L514.37,201.56L516.58,206.56L518.79,212.46L521.00,219.64L523.22,228.77L525.43,241.31L527.64,261.40L529.85,316.63L530.40,1093.16M88.89,1097.15L90.36,286.84L92.57,255.53L94.78,239.49L97.00,228.64L99.21,220.44L101.42,213.86L103.63,208.37L105.85,203.67L108.06,199.56L110.27,195.93L112.48,192.67L114.70,189.72L116.91,187.04L119.12,184.58L121.33,182.31L123.55,180.22L125.76,178.27L127.97,176.46L130.18,174.77L132.40,173.19L134.61,171.70L136.82,170.31L139.04,169.01L141.25,167.78L143.46,166.62L145.67,165.53L147.89,164.50L150.10,163.54L152.31,162.63L154.52,161.77L156.74,160.97L158.95,160.21L161.16,159.50L163.37,158.83L165.59,158.21L167.80,157.63L170.01,157.09L172.22,156.59L174.44,156.12L176.65,155.69L178.86,155.30L181.07,154.94L183.29,154.62L185.50,154.33L187.71,154.07L189.92,153.85L192.14,153.66L194.35,153.49L196.56,153.36L198.77,153.27L200.99,153.20L203.20,153.16L205.41,153.16L207.62,153.18L209.84,153.24L212.05,153.32L214.26,153.44L216.48,153.59L218.69,153.77L220.90,153.98L223.11,154.23L225.33,154.50L227.54,154.81L229.75,155.16L231.96,155.54L234.18,155.95L236.39,156.40L238.60,156.89L240.81,157.42L243.03,157.98L245.24,158.59L247.45,159.24L249.66,159.93L251.88,160.67L254.09,161.45L256.30,162.29L258.51,163.18L260.73,164.12L262.94,165.12L265.15,166.19L267.36,167.32L269.58,168.52L271.79,169.80L274.00,171.15L276.21,172.60L278.43,174.14L280.64,175.79L282.85,177.55L285.06,179.45L287.28,181.48L289.49,183.68L291.70,186.06L293.92,188.65L296.13,191.49M321.87,191.49L324.08,188.65L326.30,186.06L328.51,183.68L330.72,181.48L332.94,179.45L335.15,177.55L337.36,175.79L339.57,174.14L341.79,172.60L344.00,171.15L346.21,169.80L348.42,168.52L350.64,167.32L352.85,166.19L355.06,165.12L357.27,164.12L359.49,163.18L361.70,162.29L363.91,161.45L366.12,160.67L368.34,159.93L370.55,159.24L372.76,158.59L374.97,157.98L377.19,157.42L379.40,156.89L381.61,156.40L383.82,155.95L386.04,155.54L388.25,155.16L390.46,154.81L392.67,154.50L394.89,154.23L397.10,153.98L399.31,153.77L401.52,153.59L403.74,153.44L405.95,153.32L408.16,153.24L410.38,153.18L412.59,153.16L414.80,153.16L417.01,153.20L419.23,153.27L421.44,153.36L423.65,153.49L425.86,153.66L428.08,153.85L430.29,154.07L432.50,154.33L434.71,154.62L436.93,154.94L439.14,155.30L441.35,155.69L443.56,156.12L445.78,156.59L447.99,157.09L450.20,157.63L452.41,158.21L454.63,158.83L456.84,159.50L459.05,160.21L461.26,160.97L463.48,161.77L465.69,162.63L467.90,163.54L470.11,164.50L472.33,165.53L474.54,166.62L476.75,167.78L478.96,169.01L481.18,170.31L483.39,171.70L485.60,173.19L487.82,174.77L490.03,176.46L492.24,178.27L494.45,180.22L496.67,182.31L498.88,184.58L501.09,187.04L503.30,189.72L505.52,192.67L507.73,195.93L509.94,199.56L512.15,203.67L514.37,208.37L516.58,213.86L518.79,220.44L521.00,228.64L523.22,239.49L525.43,255.53L527.64,286.84L529.11,1097.15M90.17,1100.72L90.36,361.05L92.57,273.76L94.78,251.45L97.00,238.09L99.21,228.53L101.42,221.10L103.63,215.02L105.85,209.89L108.06,205.46L110.27,201.56L112.48,198.09L114.70,194.97L116.91,192.14L119.12,189.55L121.33,187.18L123.55,184.98L125.76,182.95L127.97,181.07L130.18,179.31L132.40,177.66L134.61,176.12L136.82,174.68L139.04,173.32L141.25,172.05L143.46,170.85L145.67,169.72L147.89,168.66L150.10,167.66L152.31,166.72L154.52,165.83L156.74,165.00L158.95,164.21L161.16,163.47L163.37,162.78L165.59,162.14L167.80,161.53L170.01,160.97L172.22,160.44L174.44,159.95L176.65,159.51L178.86,159.09L181.07,158.71L183.29,158.37L185.50,158.06L187.71,157.78L189.92,157.54L192.14,157.33L194.35,157.15L196.56,157.00L198.77,156.89L200.99,156.80L203.20,156.75L205.41,156.72L207.62,156.73L209.84,156.77L212.05,156.83L214.26,156.93L216.48,157.07L218.69,157.23L220.90,157.42L223.11,157.65L225.33,157.90L227.54,158.20L229.75,158.52L231.96,158.88L234.18,159.27L236.39,159.70L238.60,160.17L240.81,160.67L243.03,161.21L245.24,161.80L247.45,162.42L249.66,163.09L251.88,163.80L254.09,164.56L256.30,165.36L258.51,166.22L260.73,167.13L262.94,168.10L265.15,169.13L267.36,170.22L269.58,171.38L271.79,172.61L274.00,173.92L276.21,175.31L278.43,176.80L280.64,178.39L282.85,180.08L285.06,181.90L287.28,183.85L289.49,185.95L291.70,188.22L293.92,190.68L296.13,193.38M321.87,193.38L324.08,190.68L326.30,188.22L328.51,185.95L330.72,183.85L332.94,181.90L335.15,180.08L337.36,178.39L339.57,176.80L341.79,175.31L344.00,173.92L346.21,172.61L348.42,171.38L350.64,170.22L352.85,169.13L355.06,168.10L357.27,167.13L359.49,166.22L361.70,165.36L363.91,164.56L366.12,163.80L368.34,163.09L370.55,162.42L372.76,161.80L374.97,161.21L377.19,160.67L379.40,160.17L381.61,159.70L383.82,159.27L386.04,158.88L388.25,158.52L390.46,158.20L392.67,157.90L394.89,157.65L397.10,157.42L399.31,157.23L401.52,157.07L403.74,156.93L405.95,156.83L408.16,156.77L410.38,156.73L412.59,156.72L414.80,156.75L417.01,156.80L419.23,156.89L421.44,157.00L423.65,157.15L425.86,157.33L428.08,157.54L430.29,157.78L432.50,158.06L434.71,158.37L436.93,158.71L439.14,159.09L441.35,159.51L443.56,159.95L445.78,160.44L447.99,160.97L450.20,161.53L452.41,162.14L454.63,162.78L456.84,163.47L459.05,164.21L461.26,165.00L463.48,165.83L465.69,166.72L467.90,167.66L470.11,168.66L472.33,169.72L474.54,170.85L476.75,172.05L478.96,173.32L481.18,174.68L483.39,176.12L485.60,177.66L487.82,179.31L490.03,181.07L492.24,182.95L494.45,184.98L496.67,187.18L498.88,189.55L501.09,192.14L503.30,194.97L505.52,198.09L507.73,201.56L509.94,205.46L512.15,209.89L514.37,215.02L516.58,221.10L518.79,228.53L521.00,238.09L523.22,251.45L525.43,273.76L527.64,361.05L527.83,1100.72M103.04,1123.88L103.63,344.86L105.85,291.62L108.06,271.75L110.27,259.29L112.48,250.21L114.70,243.06L116.91,237.18L119.12,232.19L121.33,227.87L123.55,224.06L125.76,220.66L127.97,217.59L130.18,214.81L132.40,212.26L134.61,209.92L136.82,207.76L139.04,205.76L141.25,203.89L143.46,202.16L145.67,200.53L147.89,199.01L150.10,197.58L152.31,196.24L154.52,194.98L156.74,193.80L158.95,192.68L161.16,191.63L163.37,190.64L165.59,189.71L167.80,188.83L170.01,188.01L172.22,187.23L174.44,186.50L176.65,185.82L178.86,185.18L181.07,184.58L183.29,184.03L185.50,183.51L187.71,183.03L189.92,182.59L192.14,182.18L194.35,181.81L196.56,181.47L198.77,181.17L200.99,180.90L203.20,180.66L205.41,180.45L207.62,180.28L209.84,180.14L212.05,180.03L214.26,179.95L216.48,179.90L218.69,179.88L220.90,179.89L223.11,179.93L225.33,180.01L227.54,180.11L229.75,180.25L231.96,180.42L234.18,180.62L236.39,180.85L238.60,181.11L240.81,181.41L243.03,181.74L245.24,182.11L247.45,182.51L249.66,182.94L251.88,183.42L254.09,183.93L256.30,184.48L258.51,185.07L260.73,185.70L262.94,186.37L265.15,187.09L267.36,187.86L269.58,188.67L271.79,189.54L274.00,190.46L276.21,191.44L278.43,192.48L280.64,193.58L282.85,194.76L285.06,196.00L287.28,197.33L289.49,198.74L291.70,200.24L293.92,201.84L296.13,203.56M321.87,203.56L324.08,201.84L326.30,200.24L328.51,198.74L330.72,197.33L332.94,196.00L335.15,194.76L337.36,193.58L339.57,192.48L341.79,191.44L344.00,190.46L346.21,189.54L348.42,188.67L350.64,187.86L352.85,187.09L355.06,186.37L357.27,185.70L359.49,185.07L361.70,184.48L363.91,183.93L366.12,183.42L368.34,182.94L370.55,182.51L372.76,182.11L374.97,181.74L377.19,181.41L379.40,181.11L381.61,180.85L383.82,180.62L386.04,180.42L388.25,180.25L390.46,180.11L392.67,180.01L394.89,179.93L397.10,179.89L399.31,179.88L401.52,179.90L403.74,179.95L405.95,180.03L408.16,180.14L410.38,180.28L412.59,180.45L414.80,180.66L417.01,180.90L419.23,181.17L421.44,181.47L423.65,181.81L425.86,182.18L428.08,182.59L430.29,183.03L432.50,183.51L434.71,184.03L436.93,184.58L439.14,185.18L441.35,185.82L443.56,186.50L445.78,187.23L447.99,188.01L450.20,188.83L452.41,189.71L454.63,190.64L456.84,191.63L459.05,192.68L461.26,193.80L463.48,194.98L465.69,196.24L467.90,197.58L470.11,199.01L472.33,200.53L474.54,202.16L476.75,203.89L478.96,205.76L481.18,207.76L483.39,209.92L485.60,212.26L487.82,214.81L490.03,217.59L492.24,220.66L494.45,224.06L496.67,227.87L498.88,232.19L501.09,237.18L503.30,243.06L505.52,250.21L507.73,259.29L509.94,271.75L512.15,291.62L514.37,344.86L514.96,1123.88M115.92,1136.85L116.91,340.03L119.12,300.00L121.33,282.09L123.55,270.42L125.76,261.76L127.97,254.88L130.18,249.19L132.40,244.33L134.61,240.11L136.82,236.38L139.04,233.05L141.25,230.04L143.46,227.30L145.67,224.79L147.89,222.49L150.10,220.36L152.31,218.38L154.52,216.54L156.74,214.83L158.95,213.22L161.16,211.72L163.37,210.31L165.59,208.98L167.80,207.74L170.01,206.56L172.22,205.46L174.44,204.42L176.65,203.44L178.86,202.52L181.07,201.65L183.29,200.84L185.50,200.07L187.71,199.35L189.92,198.67L192.14,198.04L194.35,197.45L196.56,196.90L198.77,196.39L200.99,195.92L203.20,195.48L205.41,195.08L207.62,194.72L209.84,194.39L212.05,194.09L214.26,193.82L216.48,193.59L218.69,193.39L220.90,193.22L223.11,193.09L225.33,192.98L227.54,192.91L229.75,192.87L231.96,192.85L234.18,192.87L236.39,192.92L238.60,193.00L240.81,193.11L243.03,193.25L245.24,193.43L247.45,193.63L249.66,193.87L251.88,194.14L254.09,194.44L256.30,194.78L258.51,195.15L260.73,195.56L262.94,196.00L265.15,196.48L267.36,197.00L269.58,197.55L271.79,198.15L274.00,198.79L276.21,199.47L278.43,200.20L280.64,200.98L282.85,201.80L285.06,202.68L287.28,203.61L289.49,204.60L291.70,205.65L293.92,206.77L296.13,207.95M321.87,207.95L324.08,206.77L326.30,205.65L328.51,204.60L330.72,203.61L332.94,202.68L335.15,201.80L337.36,200.98L339.57,200.20L341.79,199.47L344.00,198.79L346.21,198.15L348.42,197.55L350.64,197.00L352.85,196.48L355.06,196.00L357.27,195.56L359.49,195.15L361.70,194.78L363.91,194.44L366.12,194.14L368.34,193.87L370.55,193.63L372.76,193.43L374.97,193.25L377.19,193.11L379.40,193.00L381.61,192.92L383.82,192.87L386.04,192.85L388.25,192.87L390.46,192.91L392.67,192.98L394.89,193.09L397.10,193.22L399.31,193.39L401.52,193.59L403.74,193.82L405.95,194.09L408.16,194.39L410.38,194.72L412.59,195.08L414.80,195.48L417.01,195.92L419.23,196.39L421.44,196.90L423.65,197.45L425.86,198.04L428.08,198.67L430.29,199.35L432.50,200.07L434.71,200.84L436.93,201.65L439.14,202.52L441.35,203.44L443.56,204.42L445.78,205.46L447.99,206.56L450.20,207.74L452.41,208.98L454.63,210.31L456.84,211.72L459.05,213.22L461.26,214.83L463.48,216.54L465.69,218.38L467.90,220.36L470.11,222.49L472.33,224.79L474.54,227.30L476.75,230.04L478.96,233.05L481.18,236.38L483.39,240.11L485.60,244.33L487.82,249.19L490.03,254.88L492.24,261.76L494.45,270.42L496.67,282.09L498.88,300.00L501.09,340.03L502.08,1136.85M128.79,1145.44L130.18,336.97L132.40,304.54L134.61,288.22L136.82,277.25L139.04,268.98L141.25,262.35L143.46,256.83L145.67,252.10L147.89,247.98L150.10,244.33L152.31,241.06L154.52,238.10L156.74,235.41L158.95,232.94L161.16,230.67L163.37,228.57L165.59,226.62L167.80,224.80L170.01,223.11L172.22,221.52L174.44,220.04L176.65,218.64L178.86,217.33L181.07,216.10L183.29,214.94L185.50,213.85L187.71,212.82L189.92,211.85L192.14,210.94L194.35,210.08L196.56,209.27L198.77,208.52L200.99,207.80L203.20,207.14L205.41,206.51L207.62,205.93L209.84,205.39L212.05,204.88L214.26,204.42L216.48,203.99L218.69,203.59L220.90,203.24L223.11,202.91L225.33,202.62L227.54,202.36L229.75,202.14L231.96,201.94L234.18,201.78L236.39,201.65L238.60,201.55L240.81,201.48L243.03,201.44L245.24,201.44L247.45,201.46L249.66,201.51L251.88,201.60L254.09,201.72L256.30,201.86L258.51,202.04L260.73,202.25L262.94,202.50L265.15,202.77L267.36,203.08L269.58,203.43L271.79,203.80L274.00,204.22L276.21,204.67L278.43,205.15L280.64,205.68L282.85,206.24L285.06,206.85L287.28,207.49L289.49,208.18L291.70,208.92L293.92,209.71L296.13,210.54M321.87,210.54L324.08,209.71L326.30,208.92L328.51,208.18L330.72,207.49L332.94,206.85L335.15,206.24L337.36,205.68L339.57,205.15L341.79,204.67L344.00,204.22L346.21,203.80L348.42,203.43L350.64,203.08L352.85,202.77L355.06,202.50L357.27,202.25L359.49,202.04L361.70,201.86L363.91,201.72L366.12,201.60L368.34,201.51L370.55,201.46L372.76,201.44L374.97,201.44L377.19,201.48L379.40,201.55L381.61,201.65L383.82,201.78L386.04,201.94L388.25,202.14L390.46,202.36L392.67,202.62L394.89,202.91L397.10,203.24L399.31,203.59L401.52,203.99L403.74,204.42L405.95,204.88L408.16,205.39L410.38,205.93L412.59,206.51L414.80,207.14L417.01,207.80L419.23,208.52L421.44,209.27L423.65,210.08L425.86,210.94L428.08,211.85L430.29,212.82L432.50,213.85L434.71,214.94L436.93,216.10L439.14,217.33L441.35,218.64L443.56,220.04L445.78,221.52L447.99,223.11L450.20,224.80L452.41,226.62L454.63,228.57L456.84,230.67L459.05,232.94L461.26,235.41L463.48,238.10L465.69,241.06L467.90,244.33L470.11,247.98L472.33,252.10L474.54,256.83L476.75,262.35L478.96,268.98L481.18,277.25L483.39,288.22L485.60,304.54L487.82,336.97L489.21,1145.44M141.66,1151.43L143.46,334.30L145.67,306.91L147.89,291.93L150.10,281.57L152.31,273.66L154.52,267.27L156.74,261.91L158.95,257.31L161.16,253.28L163.37,249.70L165.59,246.49L167.80,243.59L170.01,240.94L172.22,238.51L174.44,236.27L176.65,234.20L178.86,232.27L181.07,230.48L183.29,228.80L185.50,227.24L187.71,225.77L189.92,224.39L192.14,223.09L194.35,221.88L196.56,220.73L198.77,219.65L200.99,218.63L203.20,217.67L205.41,216.77L207.62,215.92L209.84,215.13L212.05,214.38L214.26,213.67L216.48,213.01L218.69,212.40L220.90,211.82L223.11,211.29L225.33,210.79L227.54,210.33L229.75,209.91L231.96,209.52L234.18,209.17L236.39,208.85L238.60,208.56L240.81,208.31L243.03,208.09L245.24,207.90L247.45,207.75L249.66,207.62L251.88,207.53L254.09,207.46L256.30,207.43L258.51,207.43L260.73,207.46L262.94,207.52L265.15,207.61L267.36,207.73L269.58,207.89L271.79,208.07L274.00,208.29L276.21,208.54L278.43,208.82L280.64,209.14L282.85,209.49L285.06,209.87L287.28,210.29L289.49,210.75L291.70,211.24L293.92,211.77L296.13,212.34M321.87,212.34L324.08,211.77L326.30,211.24L328.51,210.75L330.72,210.29L332.94,209.87L335.15,209.49L337.36,209.14L339.57,208.82L341.79,208.54L344.00,208.29L346.21,208.07L348.42,207.89L350.64,207.73L352.85,207.61L355.06,207.52L357.27,207.46L359.49,207.43L361.70,207.43L363.91,207.46L366.12,207.53L368.34,207.62L370.55,207.75L372.76,207.90L374.97,208.09L377.19,208.31L379.40,208.56L381.61,208.85L383.82,209.17L386.04,209.52L388.25,209.91L390.46,210.33L392.67,210.79L394.89,211.29L397.10,211.82L399.31,212.40L401.52,213.01L403.74,213.67L405.95,214.38L408.16,215.13L410.38,215.92L412.59,216.77L414.80,217.67L417.01,218.63L419.23,219.65L421.44,220.73L423.65,221.88L425.86,223.09L428.08,224.39L430.29,225.77L432.50,227.24L434.71,228.80L436.93,230.48L439.14,232.27L441.35,234.20L443.56,236.27L445.78,238.51L447.99,240.94L450.20,243.59L452.41,246.49L454.63,249.70L456.84,253.28L459.05,257.31L461.26,261.91L463.48,267.27L465.69,273.66L467.90,281.57L470.11,291.93L472.33,306.91L474.54,334.30L476.34,1151.43M154.53,1155.61L156.74,331.58L158.95,307.84L161.16,293.98L163.37,284.18L165.59,276.59L167.80,270.41L170.01,265.21L172.22,260.72L174.44,256.78L176.65,253.28L178.86,250.13L181.07,247.28L183.29,244.67L185.50,242.28L187.71,240.07L189.92,238.03L192.14,236.13L194.35,234.36L196.56,232.70L198.77,231.15L200.99,229.70L203.20,228.34L205.41,227.06L207.62,225.85L209.84,224.72L212.05,223.65L214.26,222.64L216.48,221.70L218.69,220.80L220.90,219.97L223.11,219.18L225.33,218.44L227.54,217.74L229.75,217.09L231.96,216.48L234.18,215.91L236.39,215.38L238.60,214.89L240.81,214.44L243.03,214.03L245.24,213.64L247.45,213.30L249.66,212.99L251.88,212.71L254.09,212.46L256.30,212.25L258.51,212.06L260.73,211.91L262.94,211.79L265.15,211.71L267.36,211.65L269.58,211.62L271.79,211.63L274.00,211.66L276.21,211.73L278.43,211.82L280.64,211.95L282.85,212.11L285.06,212.30L287.28,212.52L289.49,212.78L291.70,213.07L293.92,213.39L296.13,213.74M321.87,213.74L324.08,213.39L326.30,213.07L328.51,212.78L330.72,212.52L332.94,212.30L335.15,212.11L337.36,211.95L339.57,211.82L341.79,211.73L344.00,211.66L346.21,211.63L348.42,211.62L350.64,211.65L352.85,211.71L355.06,211.79L357.27,211.91L359.49,212.06L361.70,212.25L363.91,212.46L366.12,212.71L368.34,212.99L370.55,213.30L372.76,213.64L374.97,214.03L377.19,214.44L379.40,214.89L381.61,215.38L383.82,215.91L386.04,216.48L388.25,217.09L390.46,217.74L392.67,218.44L394.89,219.18L397.10,219.97L399.31,220.80L401.52,221.70L403.74,222.64L405.95,223.65L408.16,224.72L410.38,225.85L412.59,227.06L414.80,228.34L417.01,229.70L419.23,231.15L421.44,232.70L423.65,234.36L425.86,236.13L428.08,238.03L430.29,240.07L432.50,242.28L434.71,244.67L436.93,247.28L439.14,250.13L441.35,253.28L443.56,256.78L445.78,260.72L447.99,265.21L450.20,270.41L452.41,276.59L454.63,284.18L456.84,293.98L459.05,307.84L461.26,331.58L463.47,1155.61M167.41,1158.41L167.80,393.24L170.01,328.63L172.22,307.64L174.44,294.76L176.65,285.45L178.86,278.17L181.07,272.19L183.29,267.14L185.50,262.76L187.71,258.91L189.92,255.47L192.14,252.38L194.35,249.57L196.56,247.01L198.77,244.65L200.99,242.48L203.20,240.46L205.41,238.58L207.62,236.83L209.84,235.20L212.05,233.67L214.26,232.24L216.48,230.89L218.69,229.62L220.90,228.43L223.11,227.31L225.33,226.25L227.54,225.26L229.75,224.32L231.96,223.44L234.18,222.61L236.39,221.83L238.60,221.10L240.81,220.41L243.03,219.76L245.24,219.16L247.45,218.60L249.66,218.08L251.88,217.60L254.09,217.15L256.30,216.74L258.51,216.37L260.73,216.03L262.94,215.72L265.15,215.45L267.36,215.21L269.58,215.00L271.79,214.82L274.00,214.68L276.21,214.56L278.43,214.48L280.64,214.43L282.85,214.41L285.06,214.42L287.28,214.46L289.49,214.53L291.70,214.63L293.92,214.77L296.13,214.93M321.87,214.93L324.08,214.77L326.30,214.63L328.51,214.53L330.72,214.46L332.94,214.42L335.15,214.41L337.36,214.43L339.57,214.48L341.79,214.56L344.00,214.68L346.21,214.82L348.42,215.00L350.64,215.21L352.85,215.45L355.06,215.72L357.27,216.03L359.49,216.37L361.70,216.74L363.91,217.15L366.12,217.60L368.34,218.08L370.55,218.60L372.76,219.16L374.97,219.76L377.19,220.41L379.40,221.10L381.61,221.83L383.82,222.61L386.04,223.44L388.25,224.32L390.46,225.26L392.67,226.25L394.89,227.31L397.10,228.43L399.31,229.62L401.52,230.89L403.74,232.24L405.95,233.67L408.16,235.20L410.38,236.83L412.59,238.58L414.80,240.46L417.01,242.48L419.23,244.65L421.44,247.01L423.65,249.57L425.86,252.38L428.08,255.47L430.29,258.91L432.50,262.76L434.71,267.14L436.93,272.19L439.14,278.17L441.35,285.45L443.56,294.76L445.78,307.64L447.99,328.63L450.20,393.24L450.59,1158.41M180.28,1160.01L181.07,370.73L183.29,325.32L185.50,306.50L187.71,294.46L189.92,285.60L192.14,278.60L194.35,272.81L196.56,267.89L198.77,263.62L200.99,259.85L203.20,256.49L205.41,253.45L207.62,250.69L209.84,248.17L212.05,245.84L214.26,243.70L216.48,241.71L218.69,239.86L220.90,238.13L223.11,236.52L225.33,235.00L227.54,233.59L229.75,232.25L231.96,231.00L234.18,229.82L236.39,228.71L238.60,227.67L240.81,226.68L243.03,225.76L245.24,224.88L247.45,224.06L249.66,223.29L251.88,222.57L254.09,221.89L256.30,221.25L258.51,220.66L260.73,220.11L262.94,219.59L265.15,219.12L267.36,218.68L269.58,218.27L271.79,217.91L274.00,217.57L276.21,217.27L278.43,217.00L280.64,216.77L282.85,216.57L285.06,216.40L287.28,216.26L289.49,216.15L291.70,216.07L293.92,216.03L296.13,216.01M321.87,216.01L324.08,216.03L326.30,216.07L328.51,216.15L330.72,216.26L332.94,216.40L335.15,216.57L337.36,216.77L339.57,217.00L341.79,217.27L344.00,217.57L346.21,217.91L348.42,218.27L350.64,218.68L352.85,219.12L355.06,219.59L357.27,220.11L359.49,220.66L361.70,221.25L363.91,221.89L366.12,222.57L368.34,223.29L370.55,224.06L372.76,224.88L374.97,225.76L377.19,226.68L379.40,227.67L381.61,228.71L383.82,229.82L386.04,231.00L388.25,232.25L390.46,233.59L392.67,235.00L394.89,236.52L397.10,238.13L399.31,239.86L401.52,241.71L403.74,243.70L405.95,245.84L408.16,248.17L410.38,250.69L412.59,253.45L414.80,256.49L417.01,259.85L419.23,263.62L421.44,267.89L423.65,272.81L425.86,278.60L428.08,285.60L430.29,294.46L432.50,306.50L434.71,325.32L436.93,370.73L437.72,1160.01M193.15,1160.53L194.35,357.25L196.56,321.55L198.77,304.49L200.99,293.19L203.20,284.73L205.41,277.99L207.62,272.38L209.84,267.60L212.05,263.42L214.26,259.74L216.48,256.43L218.69,253.45L220.90,250.74L223.11,248.25L225.33,245.96L227.54,243.85L229.75,241.88L231.96,240.06L234.18,238.35L236.39,236.76L238.60,235.26L240.81,233.86L243.03,232.54L245.24,231.30L247.45,230.14L249.66,229.04L251.88,228.01L254.09,227.03L256.30,226.12L258.51,225.25L260.73,224.44L262.94,223.68L265.15,222.96L267.36,222.29L269.58,221.67L271.79,221.08L274.00,220.53L276.21,220.03L278.43,219.56L280.64,219.12L282.85,218.73L285.06,218.36L287.28,218.04L289.49,217.74L291.70,217.48L293.92,217.25L296.13,217.06M321.87,217.06L324.08,217.25L326.30,217.48L328.51,217.74L330.72,218.04L332.94,218.36L335.15,218.73L337.36,219.12L339.57,219.56L341.79,220.03L344.00,220.53L346.21,221.08L348.42,221.67L350.64,222.29L352.85,222.96L355.06,223.68L357.27,224.44L359.49,225.25L361.70,226.12L363.91,227.03L366.12,228.01L368.34,229.04L370.55,230.14L372.76,231.30L374.97,232.54L377.19,233.86L379.40,235.26L381.61,236.76L383.82,238.35L386.04,240.06L388.25,241.88L390.46,243.85L392.67,245.96L394.89,248.25L397.10,250.74L399.31,253.45L401.52,256.43L403.74,259.74L405.95,263.42L408.16,267.60L410.38,272.38L412.59,277.99L414.80,284.73L417.01,293.19L419.23,304.49L421.44,321.55L423.65,357.25L424.85,1160.53M206.02,1160.01L207.62,346.83L209.84,317.21L212.05,301.61L214.26,290.96L216.48,282.88L218.69,276.37L220.90,270.93L223.11,266.27L225.33,262.20L227.54,258.58L229.75,255.35L231.96,252.42L234.18,249.75L236.39,247.30L238.60,245.04L240.81,242.96L243.03,241.02L245.24,239.21L247.45,237.53L249.66,235.95L251.88,234.48L254.09,233.09L256.30,231.79L258.51,230.56L260.73,229.41L262.94,228.32L265.15,227.30L267.36,226.34L269.58,225.43L271.79,224.58L274.00,223.78L276.21,223.02L278.43,222.32L280.64,221.65L282.85,221.03L285.06,220.45L287.28,219.92L289.49,219.41L291.70,218.95L293.92,218.53L296.13,218.14M321.87,218.14L324.08,218.53L326.30,218.95L328.51,219.41L330.72,219.92L332.94,220.45L335.15,221.03L337.36,221.65L339.57,222.32L341.79,223.02L344.00,223.78L346.21,224.58L348.42,225.43L350.64,226.34L352.85,227.30L355.06,228.32L357.27,229.41L359.49,230.56L361.70,231.79L363.91,233.09L366.12,234.48L368.34,235.95L370.55,237.53L372.76,239.21L374.97,241.02L377.19,242.96L379.40,245.04L381.61,247.30L383.82,249.75L386.04,252.42L388.25,255.35L390.46,258.58L392.67,262.20L394.89,266.27L397.10,270.93L399.31,276.37L401.52,282.88L403.74,290.96L405.95,301.61L408.16,317.21L410.38,346.83L411.98,1160.01M218.89,1158.41L220.90,337.56L223.11,312.18L225.33,297.80L227.54,287.73L229.75,279.99L231.96,273.71L234.18,268.43L236.39,263.89L238.60,259.90L240.81,256.37L243.03,253.19L245.24,250.31L247.45,247.68L249.66,245.27L251.88,243.05L254.09,240.99L256.30,239.08L258.51,237.30L260.73,235.63L262.94,234.08L265.15,232.62L267.36,231.25L269.58,229.96L271.79,228.75L274.00,227.61L276.21,226.53L278.43,225.52L280.64,224.57L282.85,223.67L285.06,222.83L287.28,222.03L289.49,221.29L291.70,220.59L293.92,219.93L296.13,219.32M321.87,219.32L324.08,219.93L326.30,220.59L328.51,221.29L330.72,222.03L332.94,222.83L335.15,223.67L337.36,224.57L339.57,225.52L341.79,226.53L344.00,227.61L346.21,228.75L348.42,229.96L350.64,231.25L352.85,232.62L355.06,234.08L357.27,235.63L359.49,237.30L361.70,239.08L363.91,240.99L366.12,243.05L368.34,245.27L370.55,247.68L372.76,250.31L374.97,253.19L377.19,256.37L379.40,259.90L381.61,263.89L383.82,268.43L386.04,273.71L388.25,279.99L390.46,287.73L392.67,297.80L394.89,312.18L397.10,337.56L399.11,1158.41M231.77,1155.62L231.96,414.14L234.18,328.52L236.39,306.28L238.60,292.94L240.81,283.39L243.03,275.96L245.24,269.89L247.45,264.76L249.66,260.33L251.88,256.44L254.09,252.97L256.30,249.85L258.51,247.02L260.73,244.44L262.94,242.06L265.15,239.87L267.36,237.84L269.58,235.96L271.79,234.20L274.00,232.55L276.21,231.01L278.43,229.57L280.64,228.22L282.85,226.94L285.06,225.74L287.28,224.62L289.49,223.55L291.70,222.55L293.92,221.61L296.13,220.72M321.87,220.72L324.08,221.61L326.30,222.55L328.51,223.55L330.72,224.62L332.94,225.74L335.15,226.94L337.36,228.22L339.57,229.57L341.79,231.01L344.00,232.55L346.21,234.20L348.42,235.96L350.64,237.84L352.85,239.87L355.06,242.06L357.27,244.44L359.49,247.02L361.70,249.85L363.91,252.97L366.12,256.44L368.34,260.33L370.55,264.76L372.76,269.89L374.97,275.96L377.19,283.39L379.40,292.94L381.61,306.28L383.82,328.52L386.04,414.14L386.23,1155.62M244.64,1151.43L245.24,371.83L247.45,319.04L249.66,299.23L251.88,286.79L254.09,277.72L256.30,270.58L258.51,264.71L260.73,259.72L262.94,255.40L265.15,251.59L267.36,248.19L269.58,245.13L271.79,242.34L274.00,239.80L276.21,237.46L278.43,235.30L280.64,233.30L282.85,231.43L285.06,229.70L287.28,228.07L289.49,226.55L291.70,225.13L293.92,223.79L296.13,222.53M321.87,222.53L324.08,223.79L326.30,225.13L328.51,226.55L330.72,228.07L332.94,229.70L335.15,231.43L337.36,233.30L339.57,235.30L341.79,237.46L344.00,239.80L346.21,242.34L348.42,245.13L350.64,248.19L352.85,251.59L355.06,255.40L357.27,259.72L359.49,264.71L361.70,270.58L363.91,277.72L366.12,286.79L368.34,299.23L370.55,319.04L372.76,371.83L373.36,1151.43M257.51,1145.43L258.51,348.27L260.73,308.47L262.94,290.61L265.15,278.95L267.36,270.31L269.58,263.44L271.79,257.75L274.00,252.89L276.21,248.68L278.43,244.95L280.64,241.62L282.85,238.61L285.06,235.87L287.28,233.37L289.49,231.06L291.70,228.93L293.92,226.95L296.13,225.12M321.87,225.12L324.08,226.95L326.30,228.93L328.51,231.06L330.72,233.37L332.94,235.87L335.15,238.61L337.36,241.62L339.57,244.95L341.79,248.68L344.00,252.89L346.21,257.75L348.42,263.44L350.64,270.31L352.85,278.95L355.06,290.61L357.27,308.47L359.49,348.27L360.49,1145.43M270.38,1136.85L271.79,328.14L274.00,295.86L276.21,279.58L278.43,268.62L280.64,260.36L282.85,253.74L285.06,248.22L287.28,243.50L289.49,239.38L291.70,235.73L293.92,232.46L296.13,229.51M321.87,229.51L324.08,232.46L326.30,235.73L328.51,239.38L330.72,243.50L332.94,248.22L335.15,253.74L337.36,260.36L339.57,268.62L341.79,279.58L344.00,295.86L346.21,328.14L347.62,1136.85M283.26,1123.88L285.06,306.56L287.28,279.28L289.49,264.33L291.70,253.98L293.92,246.08L296.13,239.69M321.87,239.69L324.08,246.08L326.30,253.98L328.51,264.33L330.72,279.28L332.94,306.56L334.74,1123.88" fill="none" stroke="#d3d3d3" stroke-width="1"/></g>
<path d="M77.3,58.7V413.7M540.7,58.7V413.7M70.5,59.2H541.2M70.5,413.2H541.2" stroke="#000" stroke-width="1" fill="none"/>
<path d="M70.8,98.53H77.3M70.8,137.87H77.3M70.8,177.20H77.3M70.8,216.53H77.3M70.8,255.87H77.3M70.8,295.20H77.3M70.8,334.53H77.3M70.8,373.87H77.3M73.3,78.87H77.3M73.3,118.20H77.3M73.3,157.53H77.3M73.3,196.87H77.3M73.3,236.20H77.3M73.3,275.53H77.3M73.3,314.87H77.3M73.3,354.20H77.3M73.3,393.53H77.3M90.17,413.2V417.9M154.53,413.2V417.9M218.89,413.2V417.9M283.26,413.2V417.9M347.62,413.2V417.9M411.98,413.2V417.9M476.34,413.2V417.9M122.35,413.2V415.7M186.71,413.2V415.7M251.07,413.2V415.7M315.44,413.2V415.7M379.80,413.2V415.7M444.16,413.2V415.7M508.52,413.2V415.7" fill="none" stroke="#000" stroke-width="1"/>
<path d="M52,258h3v1h-3zM58,258h1v1h-1zM62,258h1v1h-1zM66,258h1v1h-1zM52,297h3v1h-3zM58,297h1v1h-1zM62,297h1v1h-1zM66,297h1v1h-1zM52,336h3v1h-3zM60,336h1v1h-1zM62,336h1v1h-1zM66,336h1v1h-1zM52,376h3v1h-3zM56,376h5v1h-5zM62,376h1v1h-1zM66,376h1v1h-1zM52,415h3v1h-3zM60,415h1v1h-1zM62,415h1v1h-1zM66,415h1v1h-1zM56,60h1v1h-1zM59,60h1v1h-1zM62,60h1v1h-1zM66,60h1v1h-1zM56,61h5v1h-5zM62,61h1v1h-1zM66,61h1v1h-1zM56,254h3v1h-3zM63,254h3v1h-3zM56,260h5v1h-5zM63,260h3v1h-3zM56,294h1v1h-1zM60,294h1v1h-1zM62,294h1v1h-1zM66,294h1v1h-1zM56,299h5v1h-5zM63,299h3v1h-3zM56,333h1v1h-1zM60,333h1v1h-1zM62,333h1v1h-1zM66,333h1v1h-1zM56,337h1v1h-1zM60,337h1v1h-1zM62,337h1v1h-1zM66,337h1v1h-1zM56,375h1v1h-1zM59,375h1v1h-1zM62,375h1v1h-1zM66,375h1v1h-1zM56,411h4v1h-4zM63,411h3v1h-3zM56,412h1v1h-1zM62,412h1v1h-1zM66,412h1v1h-1zM56,413h4v1h-4zM62,413h1v1h-1zM66,413h1v1h-1zM56,417h4v1h-4zM63,417h3v1h-3zM57,59h1v1h-1zM59,59h1v1h-1zM62,59h1v1h-1zM66,59h1v1h-1zM57,97h1v1h-1zM61,97h1v1h-1zM63,97h1v1h-1zM67,97h1v1h-1zM57,101h1v1h-1zM61,101h1v1h-1zM63,101h1v1h-1zM67,101h1v1h-1zM57,137h1v1h-1zM61,137h1v1h-1zM63,137h1v1h-1zM67,137h1v1h-1zM313,137h1v1h-1zM549,137h1v1h-1zM57,142h5v1h-5zM64,142h3v1h-3zM312,142h3v1h-3zM324,142h1v1h-1zM547,142h5v1h-5zM57,175h3v1h-3zM64,175h3v1h-3zM312,175h1v1h-1zM314,175h1v1h-1zM57,181h5v1h-5zM64,181h3v1h-3zM311,181h4v1h-4zM543,181h3v1h-3zM551,181h1v1h-1zM57,293h3v1h-3zM63,293h3v1h-3zM57,298h1v1h-1zM62,298h1v1h-1zM66,298h1v1h-1zM57,332h3v1h-3zM63,332h3v1h-3zM57,335h3v1h-3zM62,335h1v1h-1zM66,335h1v1h-1zM57,338h3v1h-3zM63,338h3v1h-3zM57,374h1v1h-1zM59,374h1v1h-1zM62,374h1v1h-1zM66,374h1v1h-1zM58,58h2v1h-2zM62,58h1v1h-1zM66,58h1v1h-1zM58,96h3v1h-3zM64,96h3v1h-3zM58,99h3v1h-3zM63,99h1v1h-1zM67,99h1v1h-1zM58,102h3v1h-3zM64,102h3v1h-3zM58,136h3v1h-3zM64,136h3v1h-3zM313,136h1v1h-1zM547,136h3v1h-3zM58,141h1v1h-1zM63,141h1v1h-1zM67,141h1v1h-1zM549,141h1v1h-1zM58,255h1v1h-1zM62,255h1v1h-1zM66,255h1v1h-1zM58,256h1v1h-1zM62,256h1v1h-1zM66,256h1v1h-1zM58,257h1v1h-1zM62,257h1v1h-1zM66,257h1v1h-1zM58,259h1v1h-1zM62,259h1v1h-1zM66,259h1v1h-1zM58,373h2v1h-2zM62,373h1v1h-1zM66,373h1v1h-1zM59,57h1v1h-1zM63,57h3v1h-3zM59,62h1v1h-1zM62,62h1v1h-1zM66,62h1v1h-1zM59,63h1v1h-1zM63,63h3v1h-3zM59,140h1v1h-1zM63,140h1v1h-1zM67,140h1v1h-1zM543,140h3v1h-3zM549,140h1v1h-1zM59,176h1v1h-1zM63,176h1v1h-1zM67,176h1v1h-1zM311,176h1v1h-1zM314,176h1v1h-1zM59,177h1v1h-1zM63,177h1v1h-1zM67,177h1v1h-1zM311,177h5v1h-5zM548,177h3v1h-3zM59,178h1v1h-1zM63,178h1v1h-1zM67,178h1v1h-1zM314,178h1v1h-1zM547,178h1v1h-1zM551,178h1v1h-1zM59,179h1v1h-1zM63,179h1v1h-1zM67,179h1v1h-1zM311,179h4v1h-4zM551,179h1v1h-1zM59,180h1v1h-1zM63,180h1v1h-1zM67,180h1v1h-1zM311,180h1v1h-1zM548,180h3v1h-3zM59,296h1v1h-1zM62,296h1v1h-1zM66,296h1v1h-1zM59,372h1v1h-1zM63,372h3v1h-3zM59,377h1v1h-1zM62,377h1v1h-1zM66,377h1v1h-1zM59,378h1v1h-1zM63,378h3v1h-3zM60,139h1v1h-1zM63,139h1v1h-1zM67,139h1v1h-1zM549,139h1v1h-1zM60,295h1v1h-1zM62,295h1v1h-1zM66,295h1v1h-1zM60,334h1v1h-1zM62,334h1v1h-1zM66,334h1v1h-1zM60,414h1v1h-1zM62,414h1v1h-1zM66,414h1v1h-1zM60,416h1v1h-1zM62,416h1v1h-1zM66,416h1v1h-1zM61,98h1v1h-1zM63,98h1v1h-1zM67,98h1v1h-1zM61,100h1v1h-1zM63,100h1v1h-1zM67,100h1v1h-1zM61,138h1v1h-1zM63,138h1v1h-1zM67,138h1v1h-1zM311,138h5v1h-5zM549,138h1v1h-1zM62,215h1v1h-1zM66,215h1v1h-1zM62,216h1v1h-1zM66,216h1v1h-1zM62,217h1v1h-1zM66,217h1v1h-1zM62,218h1v1h-1zM66,218h1v1h-1zM62,219h1v1h-1zM66,219h1v1h-1zM63,214h3v1h-3zM63,220h3v1h-3zM79,427h3v1h-3zM87,427h1v1h-1zM93,427h1v1h-1zM95,427h1v1h-1zM99,427h1v1h-1zM144,427h3v1h-3zM152,427h1v1h-1zM154,427h1v1h-1zM158,427h1v1h-1zM160,427h1v1h-1zM164,427h1v1h-1zM208,427h3v1h-3zM214,427h1v1h-1zM222,427h1v1h-1zM224,427h1v1h-1zM228,427h1v1h-1zM272,427h3v1h-3zM278,427h1v1h-1zM282,427h1v1h-1zM286,427h1v1h-1zM288,427h1v1h-1zM292,427h1v1h-1zM337,427h3v1h-3zM343,427h1v1h-1zM351,427h1v1h-1zM353,427h1v1h-1zM357,427h1v1h-1zM401,427h3v1h-3zM407,427h1v1h-1zM411,427h1v1h-1zM415,427h1v1h-1zM417,427h1v1h-1zM421,427h1v1h-1zM468,427h3v1h-3zM476,427h1v1h-1zM478,427h1v1h-1zM482,427h1v1h-1zM536,427h3v1h-3zM540,427h1v1h-1zM544,427h1v1h-1zM83,424h1v1h-1zM87,424h1v1h-1zM89,424h1v1h-1zM95,424h1v1h-1zM99,424h1v1h-1zM148,424h1v1h-1zM152,424h1v1h-1zM154,424h1v1h-1zM158,424h1v1h-1zM160,424h1v1h-1zM164,424h1v1h-1zM212,424h1v1h-1zM216,424h1v1h-1zM218,424h1v1h-1zM224,424h1v1h-1zM228,424h1v1h-1zM276,424h1v1h-1zM280,424h1v1h-1zM282,424h1v1h-1zM286,424h1v1h-1zM288,424h1v1h-1zM292,424h1v1h-1zM343,424h1v1h-1zM347,424h1v1h-1zM353,424h1v1h-1zM357,424h1v1h-1zM407,424h1v1h-1zM411,424h1v1h-1zM415,424h1v1h-1zM417,424h1v1h-1zM421,424h1v1h-1zM472,424h1v1h-1zM478,424h1v1h-1zM482,424h1v1h-1zM540,424h1v1h-1zM544,424h1v1h-1zM83,428h1v1h-1zM87,428h1v1h-1zM93,428h1v1h-1zM95,428h1v1h-1zM99,428h1v1h-1zM148,428h1v1h-1zM152,428h1v1h-1zM154,428h1v1h-1zM158,428h1v1h-1zM160,428h1v1h-1zM164,428h1v1h-1zM213,428h1v1h-1zM222,428h1v1h-1zM224,428h1v1h-1zM228,428h1v1h-1zM277,428h1v1h-1zM282,428h1v1h-1zM286,428h1v1h-1zM288,428h1v1h-1zM292,428h1v1h-1zM343,428h1v1h-1zM351,428h1v1h-1zM353,428h1v1h-1zM357,428h1v1h-1zM407,428h1v1h-1zM411,428h1v1h-1zM415,428h1v1h-1zM417,428h1v1h-1zM421,428h1v1h-1zM476,428h1v1h-1zM478,428h1v1h-1zM482,428h1v1h-1zM540,428h1v1h-1zM544,428h1v1h-1zM84,423h3v1h-3zM89,423h4v1h-4zM96,423h3v1h-3zM149,423h3v1h-3zM155,423h3v1h-3zM161,423h3v1h-3zM213,423h3v1h-3zM218,423h4v1h-4zM225,423h3v1h-3zM277,423h3v1h-3zM283,423h3v1h-3zM289,423h3v1h-3zM341,423h3v1h-3zM347,423h4v1h-4zM354,423h3v1h-3zM405,423h3v1h-3zM412,423h3v1h-3zM418,423h3v1h-3zM472,423h4v1h-4zM479,423h3v1h-3zM541,423h3v1h-3zM84,426h3v1h-3zM93,426h1v1h-1zM95,426h1v1h-1zM99,426h1v1h-1zM149,426h3v1h-3zM154,426h1v1h-1zM158,426h1v1h-1zM160,426h1v1h-1zM164,426h1v1h-1zM215,426h1v1h-1zM222,426h1v1h-1zM224,426h1v1h-1zM228,426h1v1h-1zM279,426h1v1h-1zM282,426h1v1h-1zM286,426h1v1h-1zM288,426h1v1h-1zM292,426h1v1h-1zM343,426h1v1h-1zM351,426h1v1h-1zM353,426h1v1h-1zM357,426h1v1h-1zM407,426h1v1h-1zM411,426h1v1h-1zM415,426h1v1h-1zM417,426h1v1h-1zM421,426h1v1h-1zM476,426h1v1h-1zM478,426h1v1h-1zM482,426h1v1h-1zM540,426h1v1h-1zM544,426h1v1h-1zM84,429h3v1h-3zM89,429h4v1h-4zM96,429h3v1h-3zM149,429h3v1h-3zM155,429h3v1h-3zM161,429h3v1h-3zM212,429h5v1h-5zM218,429h4v1h-4zM225,429h3v1h-3zM276,429h5v1h-5zM283,429h3v1h-3zM289,429h3v1h-3zM341,429h5v1h-5zM347,429h4v1h-4zM354,429h3v1h-3zM405,429h5v1h-5zM412,429h3v1h-3zM418,429h3v1h-3zM472,429h4v1h-4zM479,429h3v1h-3zM541,429h3v1h-3zM87,425h1v1h-1zM89,425h4v1h-4zM95,425h1v1h-1zM99,425h1v1h-1zM152,425h1v1h-1zM154,425h1v1h-1zM158,425h1v1h-1zM160,425h1v1h-1zM164,425h1v1h-1zM216,425h1v1h-1zM218,425h4v1h-4zM224,425h1v1h-1zM228,425h1v1h-1zM280,425h1v1h-1zM282,425h1v1h-1zM286,425h1v1h-1zM288,425h1v1h-1zM292,425h1v1h-1zM343,425h1v1h-1zM347,425h4v1h-4zM353,425h1v1h-1zM357,425h1v1h-1zM407,425h1v1h-1zM411,425h1v1h-1zM415,425h1v1h-1zM417,425h1v1h-1zM421,425h1v1h-1zM472,425h4v1h-4zM478,425h1v1h-1zM482,425h1v1h-1zM540,425h1v1h-1zM544,425h1v1h-1zM195,43h1v1h-1zM201,43h1v1h-1zM226,43h1v1h-1zM230,43h1v1h-1zM244,43h1v1h-1zM261,43h1v1h-1zM268,43h1v1h-1zM301,43h1v1h-1zM333,43h1v1h-1zM350,43h1v1h-1zM380,43h1v1h-1zM398,43h1v1h-1zM400,43h1v1h-1zM404,43h3v1h-3zM413,43h1v1h-1zM424,43h1v1h-1zM195,44h1v1h-1zM201,44h1v1h-1zM226,44h1v1h-1zM230,44h1v1h-1zM244,44h1v1h-1zM261,44h1v1h-1zM268,44h1v1h-1zM301,44h1v1h-1zM333,44h1v1h-1zM350,44h1v1h-1zM380,44h1v1h-1zM398,44h1v1h-1zM400,44h1v1h-1zM406,44h1v1h-1zM413,44h1v1h-1zM425,44h1v1h-1zM195,45h1v1h-1zM201,45h1v1h-1zM205,45h3v1h-3zM210,45h8v1h-8zM220,45h4v1h-4zM226,45h1v1h-1zM228,45h5v1h-5zM234,45h1v1h-1zM238,45h1v1h-1zM241,45h4v1h-4zM247,45h3v1h-3zM256,45h3v1h-3zM260,45h4v1h-4zM268,45h1v1h-1zM271,45h3v1h-3zM277,45h3v1h-3zM285,45h3v1h-3zM290,45h3v1h-3zM295,45h4v1h-4zM300,45h4v1h-4zM306,45h3v1h-3zM311,45h1v1h-1zM315,45h1v1h-1zM317,45h3v1h-3zM322,45h3v1h-3zM330,45h4v1h-4zM336,45h3v1h-3zM344,45h4v1h-4zM350,45h4v1h-4zM357,45h3v1h-3zM363,45h3v1h-3zM368,45h3v1h-3zM377,45h4v1h-4zM383,45h3v1h-3zM391,45h1v1h-1zM395,45h1v1h-1zM397,45h1v1h-1zM400,45h1v1h-1zM406,45h1v1h-1zM413,45h1v1h-1zM418,45h1v1h-1zM422,45h1v1h-1zM425,45h1v1h-1zM195,46h1v1h-1zM208,46h1v1h-1zM210,46h1v1h-1zM214,46h1v1h-1zM218,46h1v1h-1zM220,46h1v1h-1zM224,46h1v1h-1zM226,46h1v1h-1zM228,46h1v1h-1zM230,46h1v1h-1zM234,46h1v1h-1zM238,46h1v1h-1zM240,46h1v1h-1zM244,46h1v1h-1zM246,46h1v1h-1zM250,46h1v1h-1zM255,46h1v1h-1zM259,46h1v1h-1zM261,46h1v1h-1zM268,46h1v1h-1zM270,46h1v1h-1zM274,46h1v1h-1zM276,46h1v1h-1zM284,46h1v1h-1zM289,46h1v1h-1zM293,46h1v1h-1zM295,46h1v1h-1zM299,46h1v1h-1zM301,46h1v1h-1zM305,46h1v1h-1zM309,46h1v1h-1zM311,46h1v1h-1zM315,46h1v1h-1zM317,46h1v1h-1zM321,46h1v1h-1zM329,46h1v1h-1zM333,46h1v1h-1zM335,46h1v1h-1zM339,46h1v1h-1zM344,46h1v1h-1zM348,46h1v1h-1zM350,46h1v1h-1zM354,46h1v1h-1zM360,46h1v1h-1zM362,46h1v1h-1zM367,46h1v1h-1zM371,46h1v1h-1zM376,46h1v1h-1zM380,46h1v1h-1zM382,46h1v1h-1zM386,46h1v1h-1zM391,46h1v1h-1zM395,46h1v1h-1zM397,46h1v1h-1zM400,46h1v1h-1zM406,46h1v1h-1zM410,46h7v1h-7zM418,46h1v1h-1zM422,46h1v1h-1zM425,46h1v1h-1zM195,47h1v1h-1zM205,47h4v1h-4zM210,47h1v1h-1zM214,47h1v1h-1zM218,47h1v1h-1zM220,47h1v1h-1zM224,47h1v1h-1zM226,47h1v1h-1zM228,47h1v1h-1zM230,47h1v1h-1zM234,47h1v1h-1zM238,47h1v1h-1zM240,47h1v1h-1zM244,47h1v1h-1zM246,47h5v1h-5zM255,47h5v1h-5zM261,47h1v1h-1zM268,47h1v1h-1zM270,47h5v1h-5zM277,47h2v1h-2zM284,47h1v1h-1zM289,47h1v1h-1zM293,47h1v1h-1zM295,47h1v1h-1zM299,47h1v1h-1zM301,47h1v1h-1zM305,47h1v1h-1zM309,47h1v1h-1zM311,47h1v1h-1zM315,47h1v1h-1zM317,47h1v1h-1zM322,47h2v1h-2zM329,47h1v1h-1zM333,47h1v1h-1zM335,47h5v1h-5zM344,47h1v1h-1zM348,47h1v1h-1zM350,47h1v1h-1zM354,47h1v1h-1zM357,47h4v1h-4zM363,47h2v1h-2zM367,47h5v1h-5zM376,47h1v1h-1zM380,47h1v1h-1zM382,47h5v1h-5zM392,47h1v1h-1zM394,47h1v1h-1zM397,47h1v1h-1zM400,47h1v1h-1zM406,47h1v1h-1zM413,47h1v1h-1zM419,47h1v1h-1zM421,47h1v1h-1zM425,47h1v1h-1zM195,48h1v1h-1zM204,48h1v1h-1zM208,48h1v1h-1zM210,48h1v1h-1zM214,48h1v1h-1zM218,48h1v1h-1zM220,48h1v1h-1zM224,48h1v1h-1zM226,48h1v1h-1zM228,48h1v1h-1zM230,48h1v1h-1zM234,48h1v1h-1zM238,48h1v1h-1zM240,48h1v1h-1zM244,48h1v1h-1zM246,48h1v1h-1zM255,48h1v1h-1zM261,48h1v1h-1zM268,48h1v1h-1zM270,48h1v1h-1zM279,48h1v1h-1zM284,48h1v1h-1zM289,48h1v1h-1zM293,48h1v1h-1zM295,48h1v1h-1zM299,48h1v1h-1zM301,48h1v1h-1zM305,48h1v1h-1zM309,48h1v1h-1zM311,48h1v1h-1zM315,48h1v1h-1zM317,48h1v1h-1zM324,48h1v1h-1zM329,48h1v1h-1zM333,48h1v1h-1zM335,48h1v1h-1zM344,48h1v1h-1zM348,48h1v1h-1zM350,48h1v1h-1zM354,48h1v1h-1zM356,48h1v1h-1zM360,48h1v1h-1zM365,48h1v1h-1zM367,48h1v1h-1zM376,48h1v1h-1zM380,48h1v1h-1zM382,48h1v1h-1zM392,48h1v1h-1zM394,48h1v1h-1zM397,48h1v1h-1zM400,48h1v1h-1zM406,48h1v1h-1zM413,48h1v1h-1zM419,48h1v1h-1zM421,48h1v1h-1zM425,48h1v1h-1zM195,49h5v1h-5zM205,49h4v1h-4zM210,49h1v1h-1zM214,49h1v1h-1zM218,49h1v1h-1zM220,49h4v1h-4zM226,49h1v1h-1zM228,49h1v1h-1zM230,49h3v1h-3zM235,49h4v1h-4zM241,49h4v1h-4zM247,49h4v1h-4zM256,49h4v1h-4zM261,49h3v1h-3zM268,49h1v1h-1zM271,49h4v1h-4zM276,49h3v1h-3zM285,49h3v1h-3zM290,49h3v1h-3zM295,49h1v1h-1zM299,49h1v1h-1zM301,49h3v1h-3zM306,49h3v1h-3zM312,49h4v1h-4zM317,49h1v1h-1zM321,49h3v1h-3zM330,49h4v1h-4zM336,49h4v1h-4zM344,49h4v1h-4zM350,49h1v1h-1zM354,49h1v1h-1zM357,49h4v1h-4zM362,49h3v1h-3zM368,49h4v1h-4zM377,49h4v1h-4zM383,49h4v1h-4zM393,49h1v1h-1zM396,49h1v1h-1zM400,49h1v1h-1zM404,49h5v1h-5zM413,49h1v1h-1zM420,49h1v1h-1zM424,49h1v1h-1zM220,50h1v1h-1zM344,50h1v1h-1zM393,50h1v1h-1zM396,50h1v1h-1zM401,50h1v1h-1zM420,50h1v1h-1zM424,50h1v1h-1zM220,51h1v1h-1zM344,51h1v1h-1zM391,51h2v1h-2zM418,51h2v1h-2zM226,42h1v1h-1zM228,42h1v1h-1zM244,42h1v1h-1zM268,42h1v1h-1zM333,42h1v1h-1zM350,42h1v1h-1zM380,42h1v1h-1zM401,42h1v1h-1zM424,42h1v1h-1zM311,132h3v1h-3zM311,154h1v1h-1zM315,154h1v1h-1zM547,154h5v1h-5zM553,154h1v1h-1zM559,154h1v1h-1zM311,159h6v1h-6zM321,159h1v1h-1zM325,159h1v1h-1zM311,166h1v1h-1zM315,166h1v1h-1zM548,166h1v1h-1zM311,170h1v1h-1zM315,170h1v1h-1zM311,185h4v1h-4zM311,186h1v1h-1zM311,187h4v1h-4zM311,188h1v1h-1zM315,188h1v1h-1zM311,189h1v1h-1zM315,189h1v1h-1zM550,189h1v1h-1zM311,191h1v1h-1zM315,191h1v1h-1zM548,191h1v1h-1zM550,191h1v1h-1zM311,192h1v1h-1zM315,192h1v1h-1zM547,192h1v1h-1zM550,192h1v1h-1zM311,194h1v1h-1zM315,194h1v1h-1zM550,194h1v1h-1zM311,195h1v1h-1zM315,195h1v1h-1zM550,195h1v1h-1zM312,87h1v1h-1zM316,87h1v1h-1zM321,87h1v1h-1zM325,87h1v1h-1zM327,87h1v1h-1zM312,88h1v1h-1zM316,88h1v1h-1zM325,88h1v1h-1zM327,88h4v1h-4zM312,89h1v1h-1zM316,89h1v1h-1zM324,89h1v1h-1zM331,89h1v1h-1zM312,90h1v1h-1zM316,90h1v1h-1zM323,90h1v1h-1zM331,90h1v1h-1zM312,91h1v1h-1zM316,91h1v1h-1zM322,91h1v1h-1zM331,91h1v1h-1zM312,110h1v1h-1zM316,110h1v1h-1zM321,110h1v1h-1zM312,111h1v1h-1zM316,111h1v1h-1zM321,111h4v1h-4zM548,111h3v1h-3zM556,111h4v1h-4zM312,112h1v1h-1zM316,112h1v1h-1zM325,112h1v1h-1zM547,112h1v1h-1zM551,112h1v1h-1zM556,112h1v1h-1zM312,113h1v1h-1zM316,113h1v1h-1zM325,113h1v1h-1zM547,113h1v1h-1zM551,113h1v1h-1zM556,113h4v1h-4zM312,114h1v1h-1zM316,114h1v1h-1zM325,114h1v1h-1zM547,114h1v1h-1zM551,114h1v1h-1zM560,114h1v1h-1zM312,121h1v1h-1zM316,121h1v1h-1zM325,121h1v1h-1zM312,122h1v1h-1zM316,122h1v1h-1zM324,122h1v1h-1zM312,123h1v1h-1zM316,123h1v1h-1zM324,123h1v1h-1zM312,124h1v1h-1zM316,124h1v1h-1zM323,124h1v1h-1zM312,125h1v1h-1zM316,125h1v1h-1zM323,125h1v1h-1zM312,148h5v1h-5zM318,148h1v1h-1zM324,148h1v1h-1zM547,148h3v1h-3zM559,148h1v1h-1zM312,153h3v1h-3zM549,153h1v1h-1zM559,153h1v1h-1zM312,158h4v1h-4zM322,158h3v1h-3zM312,164h5v1h-5zM318,164h1v1h-1zM322,164h3v1h-3zM550,164h1v1h-1zM312,165h3v1h-3zM543,165h3v1h-3zM549,165h1v1h-1zM312,168h3v1h-3zM312,171h3v1h-3zM312,184h4v1h-4zM312,190h3v1h-3zM549,190h2v1h-2zM312,193h3v1h-3zM543,193h3v1h-3zM547,193h5v1h-5zM312,196h3v1h-3zM312,198h3v1h-3zM319,198h3v1h-3zM312,204h5v1h-5zM318,204h5v1h-5zM551,204h1v1h-1zM313,86h3v1h-3zM322,86h3v1h-3zM327,86h4v1h-4zM313,92h3v1h-3zM318,92h1v1h-1zM321,92h5v1h-5zM327,92h4v1h-4zM313,109h3v1h-3zM321,109h4v1h-4zM313,115h3v1h-3zM318,115h1v1h-1zM321,115h4v1h-4zM543,115h3v1h-3zM547,115h1v1h-1zM551,115h1v1h-1zM560,115h1v1h-1zM313,120h3v1h-3zM321,120h5v1h-5zM313,126h3v1h-3zM318,126h1v1h-1zM322,126h1v1h-1zM313,133h1v1h-1zM313,134h1v1h-1zM313,135h1v1h-1zM313,157h1v1h-1zM313,163h1v1h-1zM321,163h1v1h-1zM325,163h1v1h-1zM551,163h1v1h-1zM313,174h2v1h-2zM314,143h1v1h-1zM323,143h2v1h-2zM314,144h1v1h-1zM322,144h1v1h-1zM324,144h1v1h-1zM314,145h1v1h-1zM321,145h1v1h-1zM324,145h1v1h-1zM314,146h1v1h-1zM321,146h5v1h-5zM314,147h1v1h-1zM324,147h1v1h-1zM314,156h1v1h-1zM314,162h1v1h-1zM325,162h1v1h-1zM547,162h1v1h-1zM551,162h1v1h-1zM314,173h1v1h-1zM314,199h1v1h-1zM318,199h1v1h-1zM322,199h1v1h-1zM547,199h4v1h-4zM314,200h1v1h-1zM322,200h1v1h-1zM547,200h1v1h-1zM314,201h1v1h-1zM321,201h1v1h-1zM547,201h4v1h-4zM314,202h1v1h-1zM320,202h1v1h-1zM551,202h1v1h-1zM314,203h1v1h-1zM319,203h1v1h-1zM543,203h3v1h-3zM551,203h1v1h-1zM315,155h1v1h-1zM315,161h1v1h-1zM322,161h3v1h-3zM548,161h3v1h-3zM315,167h1v1h-1zM547,167h5v1h-5zM315,169h1v1h-1zM315,182h1v1h-1zM547,182h1v1h-1zM551,182h1v1h-1zM315,183h1v1h-1zM548,183h3v1h-3zM316,160h1v1h-1zM325,160h1v1h-1zM543,152h3v1h-3zM549,152h1v1h-1zM556,152h5v1h-5zM543,211h3v1h-3zM547,211h1v1h-1zM551,211h1v1h-1zM543,226h3v1h-3zM547,226h1v1h-1zM551,226h1v1h-1zM543,249h3v1h-3zM549,249h1v1h-1zM555,249h1v1h-1zM547,116h1v1h-1zM551,116h1v1h-1zM560,116h1v1h-1zM547,205h4v1h-4zM547,208h1v1h-1zM547,209h1v1h-1zM547,210h4v1h-4zM547,212h1v1h-1zM551,212h1v1h-1zM547,223h1v1h-1zM551,223h1v1h-1zM547,224h1v1h-1zM551,224h1v1h-1zM547,227h1v1h-1zM551,227h1v1h-1zM547,245h3v1h-3zM554,245h3v1h-3zM547,251h5v1h-5zM553,251h5v1h-5zM548,117h3v1h-3zM553,117h1v1h-1zM556,117h4v1h-4zM548,207h4v1h-4zM548,213h3v1h-3zM548,222h3v1h-3zM548,225h3v1h-3zM548,228h3v1h-3zM549,149h1v1h-1zM558,149h2v1h-2zM549,150h1v1h-1zM557,150h1v1h-1zM559,150h1v1h-1zM549,151h1v1h-1zM556,151h1v1h-1zM559,151h1v1h-1zM549,246h1v1h-1zM553,246h1v1h-1zM557,246h1v1h-1zM549,247h1v1h-1zM557,247h1v1h-1zM549,248h1v1h-1zM556,248h1v1h-1zM549,250h1v1h-1zM554,250h1v1h-1z" fill="#000" shape-rendering="crispEdges"/>
<g filter="url(#gs)" style="stroke:#000;stroke-width:0.15px;font-size:11px">
<text transform="translate(269.43,446.82) scale(0.933,0.903)">p</text>
<text transform="translate(275.17,447.00) scale(0.968,0.950)">h</text>
<text transform="translate(281.20,446.92) scale(0.804,0.920)">a</text>
<text transform="translate(287.34,446.92) scale(0.835,0.920)">s</text>
<text transform="translate(292.07,446.92) scale(0.967,0.920)">e</text>
<text transform="translate(298.48,446.35) scale(0.750,0.868)">(</text>
<text transform="translate(302.30,446.85) scale(0.968,0.888)">y</text>
<text transform="translate(308.80,446.35) scale(0.750,0.868)">)</text>
<text transform="translate(315.48,446.35) scale(0.750,0.868)">(</text>
<text transform="translate(319.32,446.92) scale(0.933,0.939)">d</text>
<text transform="translate(325.07,446.92) scale(0.967,0.920)">e</text>
<text transform="translate(331.06,446.82) scale(0.980,0.903)">g</text>
<text transform="translate(337.03,447.00) scale(1.164,0.933)">r</text>
<text transform="translate(341.07,446.91) scale(0.967,0.959)">é</text>
<text transform="translate(347.80,446.35) scale(0.750,0.868)">)</text>
<text style="stroke:none" transform="translate(43.70,280.67) rotate(-90) scale(1.032,0.933)">m</text>
<text style="stroke:none" transform="translate(43.62,270.60) rotate(-90) scale(0.804,0.920)">a</text>
<text style="stroke:none" transform="translate(43.52,264.74) rotate(-90) scale(0.980,0.903)">g</text>
<text style="stroke:none" transform="translate(43.70,258.63) rotate(-90) scale(0.968,0.933)">n</text>
<text style="stroke:none" transform="translate(43.70,252.21) rotate(-90) scale(0.720,0.950)">i</text>
<text style="stroke:none" transform="translate(43.47,249.53) rotate(-90) scale(1.133,0.937)">t</text>
<text style="stroke:none" transform="translate(43.62,245.41) rotate(-90) scale(0.915,0.900)">u</text>
<text style="stroke:none" transform="translate(43.62,239.48) rotate(-90) scale(0.933,0.939)">d</text>
<text style="stroke:none" transform="translate(43.62,233.73) rotate(-90) scale(0.967,0.920)">e</text>
<text style="stroke:none" transform="translate(43.05,227.33) rotate(-90) scale(0.750,0.868)">(</text>
<text style="stroke:none" transform="translate(43.55,223.50) rotate(-90) scale(0.968,0.888)">y</text>
<text style="stroke:none" transform="translate(43.05,217.00) rotate(-90) scale(0.750,0.868)">)</text>
<text style="stroke:none" transform="translate(43.05,210.33) rotate(-90) scale(0.750,0.868)">(</text>
<text style="stroke:none" transform="translate(43.70,206.51) rotate(-90) scale(0.907,0.942)">D</text>
<text style="stroke:none" transform="translate(43.62,198.37) rotate(-90) scale(0.933,0.939)">b</text>
<text style="stroke:none" transform="translate(43.05,192.00) rotate(-90) scale(0.750,0.868)">)</text>
</g>
</svg>
</body></html>
